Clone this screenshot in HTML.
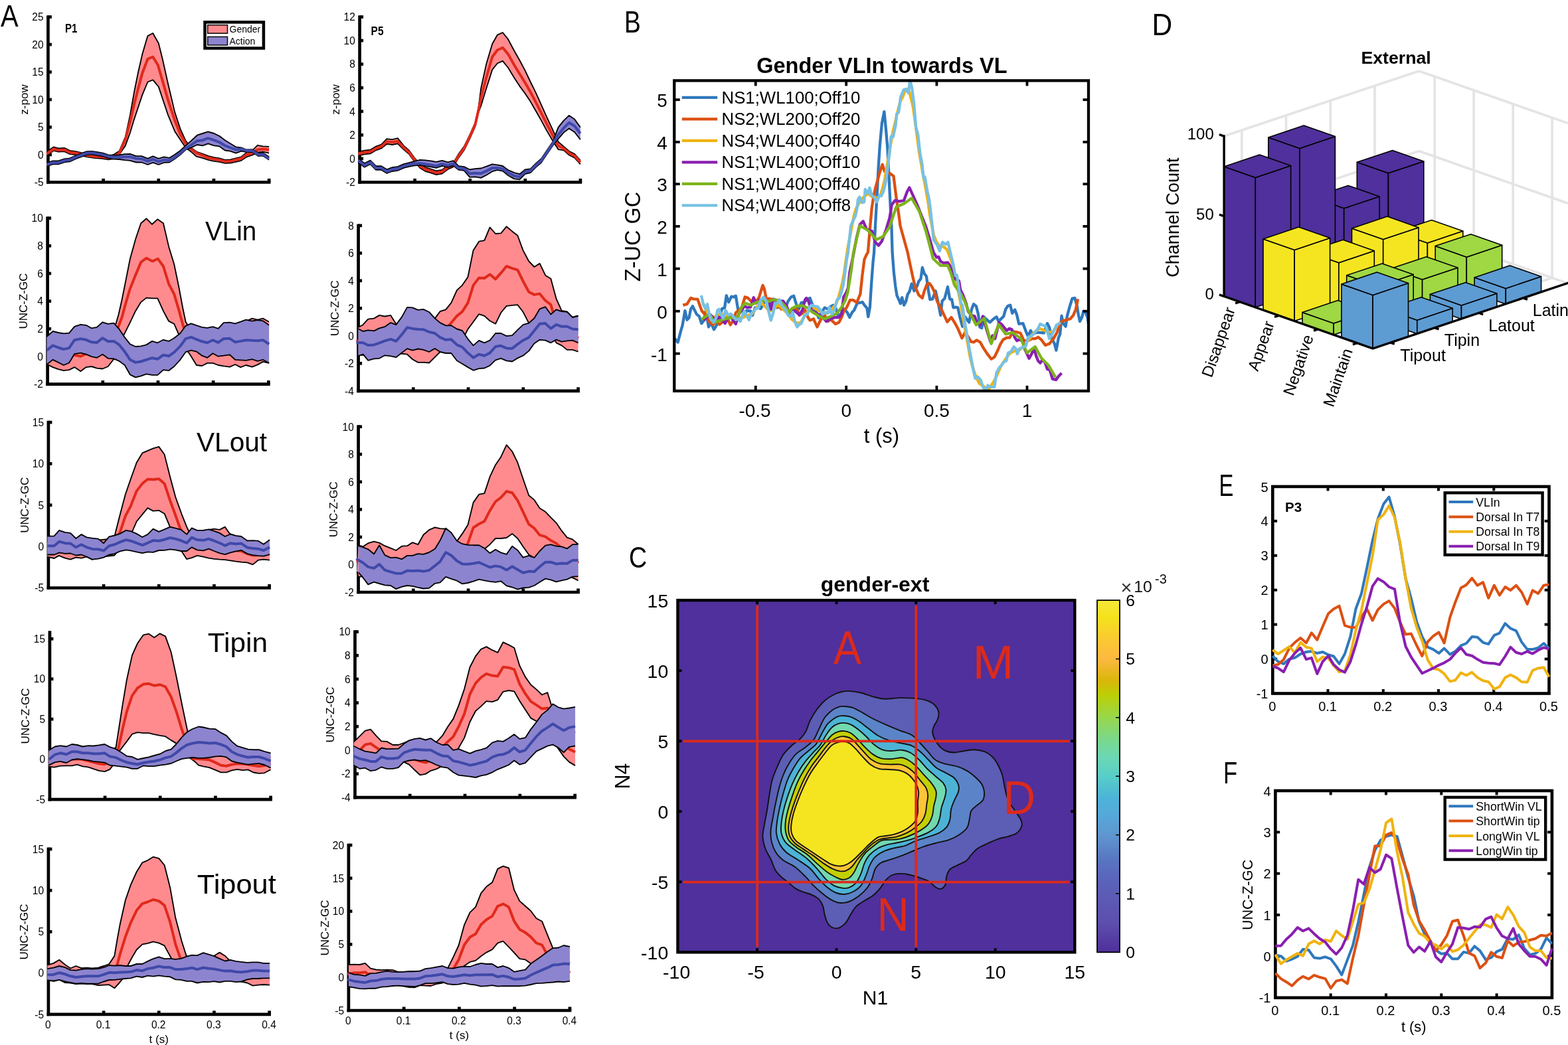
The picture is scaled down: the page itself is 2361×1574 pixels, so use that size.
<!DOCTYPE html>
<html lang="en"><head><meta charset="utf-8"><title>Figure</title>
<style>
html,body{margin:0;padding:0;background:#fff;}
body{width:2361px;height:1574px;overflow:hidden;}
svg{display:block;font-family:"Liberation Sans",sans-serif;}
</style></head><body>
<svg width="2361" height="1574" viewBox="0 0 2361 1574">
<rect width="2361" height="1574" fill="#fff"/>
<g id="A-left">
<g stroke="#000" stroke-width="4.7" fill="none" stroke-linecap="butt">
<path d="M72.4,23.15 V276.85"/>
<path d="M70.05,274.5 H407.45"/>
<path d="M72.4,233 h5.5"/>
<path d="M72.4,191.5 h5.5"/>
<path d="M72.4,150 h5.5"/>
<path d="M72.4,108.5 h5.5"/>
<path d="M72.4,67 h5.5"/>
<path d="M72.4,25.5 h5.5"/>
<path d="M155.575,274.5 v-5.5"/>
<path d="M238.75,274.5 v-5.5"/>
<path d="M321.925,274.5 v-5.5"/>
<path d="M405.1,274.5 v-5.5"/>
</g>
<text transform="translate(65.6 280.303) scale(1 1.04)" font-size="15.5" text-anchor="end">-5</text>
<text transform="translate(65.6 238.803) scale(1 1.04)" font-size="15.5" text-anchor="end">0</text>
<text transform="translate(65.6 197.303) scale(1 1.04)" font-size="15.5" text-anchor="end">5</text>
<text transform="translate(65.6 155.803) scale(1 1.04)" font-size="15.5" text-anchor="end">10</text>
<text transform="translate(65.6 114.303) scale(1 1.04)" font-size="15.5" text-anchor="end">15</text>
<text transform="translate(65.6 72.8032) scale(1 1.04)" font-size="15.5" text-anchor="end">20</text>
<text transform="translate(65.6 31.3032) scale(1 1.04)" font-size="15.5" text-anchor="end">25</text>
<text transform="translate(42 150) rotate(-90)" font-size="17" text-anchor="middle">z-pow</text>
<g stroke="#000" stroke-width="4.7" fill="none" stroke-linecap="butt">
<path d="M71.6,326.25 V580.95"/>
<path d="M69.25,578.6 H406.65"/>
<path d="M71.6,536.933 h5.5"/>
<path d="M71.6,495.267 h5.5"/>
<path d="M71.6,453.6 h5.5"/>
<path d="M71.6,411.933 h5.5"/>
<path d="M71.6,370.267 h5.5"/>
<path d="M71.6,328.6 h5.5"/>
<path d="M154.775,578.6 v-5.5"/>
<path d="M237.95,578.6 v-5.5"/>
<path d="M321.125,578.6 v-5.5"/>
<path d="M404.3,578.6 v-5.5"/>
</g>
<text transform="translate(64.8 584.403) scale(1 1.04)" font-size="15.5" text-anchor="end">-2</text>
<text transform="translate(64.8 542.737) scale(1 1.04)" font-size="15.5" text-anchor="end">0</text>
<text transform="translate(64.8 501.07) scale(1 1.04)" font-size="15.5" text-anchor="end">2</text>
<text transform="translate(64.8 459.403) scale(1 1.04)" font-size="15.5" text-anchor="end">4</text>
<text transform="translate(64.8 417.737) scale(1 1.04)" font-size="15.5" text-anchor="end">6</text>
<text transform="translate(64.8 376.07) scale(1 1.04)" font-size="15.5" text-anchor="end">8</text>
<text transform="translate(64.8 334.403) scale(1 1.04)" font-size="15.5" text-anchor="end">10</text>
<text transform="translate(40.5 453.6) rotate(-90)" font-size="17" text-anchor="middle">UNC-Z-GC</text>
<g stroke="#000" stroke-width="4.7" fill="none" stroke-linecap="butt">
<path d="M72.9,633.75 V887.85"/>
<path d="M70.55,885.5 H407.95"/>
<path d="M72.9,823.15 h5.5"/>
<path d="M72.9,760.8 h5.5"/>
<path d="M72.9,698.45 h5.5"/>
<path d="M72.9,636.1 h5.5"/>
<path d="M156.075,885.5 v-5.5"/>
<path d="M239.25,885.5 v-5.5"/>
<path d="M322.425,885.5 v-5.5"/>
<path d="M405.6,885.5 v-5.5"/>
</g>
<text transform="translate(66.1 891.303) scale(1 1.04)" font-size="15.5" text-anchor="end">-5</text>
<text transform="translate(66.1 828.953) scale(1 1.04)" font-size="15.5" text-anchor="end">0</text>
<text transform="translate(66.1 766.603) scale(1 1.04)" font-size="15.5" text-anchor="end">5</text>
<text transform="translate(66.1 704.253) scale(1 1.04)" font-size="15.5" text-anchor="end">10</text>
<text transform="translate(66.1 641.903) scale(1 1.04)" font-size="15.5" text-anchor="end">15</text>
<text transform="translate(42.5 760.8) rotate(-90)" font-size="17" text-anchor="middle">UNC-Z-GC</text>
<g stroke="#000" stroke-width="4.7" fill="none" stroke-linecap="butt">
<path d="M74.9,950.35 V1206.45"/>
<path d="M72.55,1204.1 H409.95"/>
<path d="M74.9,1143.62 h5.5"/>
<path d="M74.9,1083.15 h5.5"/>
<path d="M74.9,1022.67 h5.5"/>
<path d="M74.9,962.2 h5.5"/>
<path d="M158.075,1204.1 v-5.5"/>
<path d="M241.25,1204.1 v-5.5"/>
<path d="M324.425,1204.1 v-5.5"/>
<path d="M407.6,1204.1 v-5.5"/>
</g>
<text transform="translate(68.1 1209.9) scale(1 1.04)" font-size="15.5" text-anchor="end">-5</text>
<text transform="translate(68.1 1149.43) scale(1 1.04)" font-size="15.5" text-anchor="end">0</text>
<text transform="translate(68.1 1088.95) scale(1 1.04)" font-size="15.5" text-anchor="end">5</text>
<text transform="translate(68.1 1028.48) scale(1 1.04)" font-size="15.5" text-anchor="end">10</text>
<text transform="translate(68.1 968.003) scale(1 1.04)" font-size="15.5" text-anchor="end">15</text>
<text transform="translate(44 1078.4) rotate(-90)" font-size="17" text-anchor="middle">UNC-Z-GC</text>
<g stroke="#000" stroke-width="4.7" fill="none" stroke-linecap="butt">
<path d="M72.9,1276.55 V1530.25"/>
<path d="M70.55,1527.9 H407.95"/>
<path d="M72.9,1465.65 h5.5"/>
<path d="M72.9,1403.4 h5.5"/>
<path d="M72.9,1341.15 h5.5"/>
<path d="M72.9,1278.9 h5.5"/>
<path d="M156.075,1527.9 v-5.5"/>
<path d="M239.25,1527.9 v-5.5"/>
<path d="M322.425,1527.9 v-5.5"/>
<path d="M405.6,1527.9 v-5.5"/>
</g>
<text transform="translate(66.1 1533.7) scale(1 1.04)" font-size="15.5" text-anchor="end">-5</text>
<text transform="translate(66.1 1471.45) scale(1 1.04)" font-size="15.5" text-anchor="end">0</text>
<text transform="translate(66.1 1409.2) scale(1 1.04)" font-size="15.5" text-anchor="end">5</text>
<text transform="translate(66.1 1346.95) scale(1 1.04)" font-size="15.5" text-anchor="end">10</text>
<text transform="translate(66.1 1284.7) scale(1 1.04)" font-size="15.5" text-anchor="end">15</text>
<text transform="translate(72.3 1548.9) scale(1 1.06)" font-size="15.5" text-anchor="middle">0</text>
<text transform="translate(155.475 1548.9) scale(1 1.06)" font-size="15.5" text-anchor="middle">0.1</text>
<text transform="translate(238.65 1548.9) scale(1 1.06)" font-size="15.5" text-anchor="middle">0.2</text>
<text transform="translate(321.825 1548.9) scale(1 1.06)" font-size="15.5" text-anchor="middle">0.3</text>
<text transform="translate(405 1548.9) scale(1 1.06)" font-size="15.5" text-anchor="middle">0.4</text>
<text transform="translate(42 1403.4) rotate(-90)" font-size="17" text-anchor="middle">UNC-Z-GC</text>
<text x="239.25" y="1570.9" font-size="17" text-anchor="middle">t (s)</text>
<text transform="translate(0.96 40) scale(0.907 1.061)" font-size="44" fill="#000">A</text>
<polygon points="70.4,228.6 80.6,221.4 87.8,223.5 96.9,222.9 105.1,226.9 114.3,228.2 122.4,230.2 132.7,232.2 142.9,233.7 153.1,234.3 163.3,235.7 171.4,232.7 179.6,227.6 188.8,206.1 195.9,173.5 202,138.8 208.2,108.2 214.3,81.6 222.4,54.1 230.2,50 238.8,65.3 244.9,89.8 253.1,126.5 263.3,169.4 271.4,193.9 279.6,212.2 287.8,222.4 295.9,228.6 306.1,232.2 314.3,235.1 322.4,237.1 330.6,238.4 338.8,240.8 346.9,240.4 355.1,238.4 363.3,236.3 371.4,229.6 379.6,226.9 387.8,218.8 395.9,220.4 405.1,220.8 405.1,230.6 395.9,228.6 387.8,229.6 379.6,233.7 371.4,236.3 363.3,241.8 355.1,243.9 346.9,245.5 338.8,245.9 330.6,243.9 322.4,242.9 314.3,241.2 306.1,238.4 295.9,235.7 287.8,228.6 279.6,222.4 271.4,210.2 263.3,198 253.1,173.5 244.9,149 238.8,130.6 230.2,120.4 222.4,123.5 214.3,142.9 208.2,161.2 202,179.6 195.9,200 188.8,219.4 179.6,232.7 171.4,239.2 163.3,240.4 153.1,238.8 142.9,238.2 132.7,236.7 122.4,234.7 114.3,233.1 105.1,232.2 96.9,228.2 87.8,228.6 80.6,226.9 70.4,234.3" fill="#FF8B8F"/><polyline points="70.4,228.6 80.6,221.4 87.8,223.5 96.9,222.9 105.1,226.9 114.3,228.2 122.4,230.2 132.7,232.2 142.9,233.7 153.1,234.3 163.3,235.7 171.4,232.7 179.6,227.6 188.8,206.1 195.9,173.5 202,138.8 208.2,108.2 214.3,81.6 222.4,54.1 230.2,50 238.8,65.3 244.9,89.8 253.1,126.5 263.3,169.4 271.4,193.9 279.6,212.2 287.8,222.4 295.9,228.6 306.1,232.2 314.3,235.1 322.4,237.1 330.6,238.4 338.8,240.8 346.9,240.4 355.1,238.4 363.3,236.3 371.4,229.6 379.6,226.9 387.8,218.8 395.9,220.4 405.1,220.8" fill="none" stroke="#000" stroke-width="1.85" stroke-linejoin="round"/><polyline points="70.4,234.3 80.6,226.9 87.8,228.6 96.9,228.2 105.1,232.2 114.3,233.1 122.4,234.7 132.7,236.7 142.9,238.2 153.1,238.8 163.3,240.4 171.4,239.2 179.6,232.7 188.8,219.4 195.9,200 202,179.6 208.2,161.2 214.3,142.9 222.4,123.5 230.2,120.4 238.8,130.6 244.9,149 253.1,173.5 263.3,198 271.4,210.2 279.6,222.4 287.8,228.6 295.9,235.7 306.1,238.4 314.3,241.2 322.4,242.9 330.6,243.9 338.8,245.9 346.9,245.5 355.1,243.9 363.3,241.8 371.4,236.3 379.6,233.7 387.8,229.6 395.9,228.6 405.1,230.6" fill="none" stroke="#000" stroke-width="1.85" stroke-linejoin="round"/>
<polyline points="70.4,231.6 80.6,224.5 87.8,226.1 96.9,225.5 105.1,229.6 114.3,230.6 122.4,232.2 132.7,234.3 142.9,235.7 153.1,236.3 163.3,237.8 171.4,235.7 179.6,230.6 188.8,210.2 195.9,183.7 202,157.1 208.2,132.7 214.3,110.2 222.4,88.8 230.2,85.7 237.8,98 244.9,122.4 253.1,151 263.3,181.6 271.4,202 279.6,216.3 287.8,224.5 295.9,230.6 306.1,234.7 314.3,237.8 322.4,239.8 330.6,240.8 338.8,243.3 346.9,242.9 355.1,240.8 363.3,238.8 371.4,232.7 379.6,230.6 387.8,225.5 395.9,224.5 405.1,225.5" fill="none" stroke="#E02A1B" stroke-width="4" stroke-linejoin="round" stroke-linecap="butt" />
<polygon points="70.4,245.5 79.6,242.4 87.8,242.4 96.9,239.4 105.1,238.4 114.3,234.3 122.4,231.2 130.6,228.2 138.8,227.8 146.9,229.2 155.1,230.6 163.3,233.3 171.4,233.9 179.6,233.5 187.8,232.2 195.9,231.8 205.1,235.1 213.3,235.1 222.4,238.8 230.2,235.3 238.8,238.8 246.9,236.3 255.1,237.8 263.3,232.7 271.4,226.9 279.6,219.4 287.8,212.2 296.9,203.7 305.1,201 313.3,198.4 322.4,201 330.6,205.1 338.8,211.2 346.9,216.3 355.1,221.4 363.3,222.4 371.4,225.5 379.6,225.1 388.8,230.2 395.9,230.2 405.1,236.3 405.1,240.8 395.9,234.7 388.8,235.1 379.6,229 371.4,229 363.3,227.6 355.1,230.6 346.9,227.6 338.8,226.5 330.6,220.4 322.4,219.4 313.3,216.3 305.1,219.4 296.9,218 287.8,222.4 279.6,225.5 271.4,233.1 263.3,239.2 255.1,244.5 246.9,244.9 238.8,248 230.2,244.9 222.4,248 213.3,244.5 205.1,244.5 195.9,241.8 187.8,241.2 179.6,240 171.4,239.6 163.3,238.4 155.1,235.5 146.9,234.1 138.8,232.7 130.6,233.1 122.4,236.1 114.3,239.2 105.1,243.3 96.9,244.3 87.8,247.3 79.6,247.3 70.4,250.4" fill="#8D84CF"/><polyline points="70.4,245.5 79.6,242.4 87.8,242.4 96.9,239.4 105.1,238.4 114.3,234.3 122.4,231.2 130.6,228.2 138.8,227.8 146.9,229.2 155.1,230.6 163.3,233.3 171.4,233.9 179.6,233.5 187.8,232.2 195.9,231.8 205.1,235.1 213.3,235.1 222.4,238.8 230.2,235.3 238.8,238.8 246.9,236.3 255.1,237.8 263.3,232.7 271.4,226.9 279.6,219.4 287.8,212.2 296.9,203.7 305.1,201 313.3,198.4 322.4,201 330.6,205.1 338.8,211.2 346.9,216.3 355.1,221.4 363.3,222.4 371.4,225.5 379.6,225.1 388.8,230.2 395.9,230.2 405.1,236.3" fill="none" stroke="#000" stroke-width="1.85" stroke-linejoin="round"/><polyline points="70.4,250.4 79.6,247.3 87.8,247.3 96.9,244.3 105.1,243.3 114.3,239.2 122.4,236.1 130.6,233.1 138.8,232.7 146.9,234.1 155.1,235.5 163.3,238.4 171.4,239.6 179.6,240 187.8,241.2 195.9,241.8 205.1,244.5 213.3,244.5 222.4,248 230.2,244.9 238.8,248 246.9,244.9 255.1,244.5 263.3,239.2 271.4,233.1 279.6,225.5 287.8,222.4 296.9,218 305.1,219.4 313.3,216.3 322.4,219.4 330.6,220.4 338.8,226.5 346.9,227.6 355.1,230.6 363.3,227.6 371.4,229 379.6,229 388.8,235.1 395.9,234.7 405.1,240.8" fill="none" stroke="#000" stroke-width="1.85" stroke-linejoin="round"/>
<polyline points="70.4,248 79.6,244.9 87.8,244.9 96.9,241.8 105.1,240.8 114.3,236.7 122.4,233.7 130.6,230.6 138.8,230.2 146.9,231.6 155.1,233.1 163.3,235.7 171.4,236.7 179.6,236.7 187.8,236.3 195.9,236.3 205.1,238.8 213.3,239.2 222.4,242.9 230.2,239.8 238.8,243.3 246.9,240.8 255.1,241.8 263.3,236.7 271.4,230.6 279.6,223.5 287.8,218.4 296.9,212.2 305.1,211.2 313.3,208.2 322.4,211.2 330.6,214.3 338.8,219.4 346.9,222.4 355.1,225.5 363.3,224.5 371.4,226.9 379.6,226.9 388.8,232.7 395.9,232.7 405.1,238.8" fill="none" stroke="#3F49A9" stroke-width="4" stroke-linejoin="round" stroke-linecap="butt" />
<polygon points="71.4,506.1 81.6,504.1 102,504.1 122.4,504.1 142.9,500 163.3,493.9 174.5,487.8 178.6,473.5 183.7,451 189.8,420.4 195.9,389.8 204.1,360.2 212.2,336.3 220.4,329.2 229,337.8 237.3,330.2 245.9,336.3 254.1,371.4 262.2,398 269.4,432.7 275.5,465.3 279.6,484.7 282.7,489.8 295.9,495.9 326.5,495.9 346.9,489.8 363.3,486.7 371.4,483.7 379.6,479.6 387.8,481.6 395.9,479.6 405.1,484.7 405.1,546.9 395.9,544.9 387.8,549.4 379.6,552.7 370.4,550 362.2,553.1 354.1,549 345.9,552.7 336.7,551.4 328.6,550 320.4,546.9 312.2,546.9 304.1,551 295.9,550 287.8,536.7 283.7,530.6 277.6,524.5 269.4,504.1 262.2,487.8 254.1,483.7 245.9,468.4 237.3,449.4 229,449.4 220.4,448.6 212.2,455.1 204.1,468.4 195.9,485.7 186.7,504.1 171.4,540.8 162.7,552 154.5,555.5 145.9,554.7 137.8,552 129.6,553.1 121.4,559.2 112.2,553.1 104.1,557.1 95.9,558.2 87.8,556.1 79.6,553.1 71.4,549" fill="#FF8B8F"/><polyline points="71.4,506.1 81.6,504.1 102,504.1 122.4,504.1 142.9,500 163.3,493.9 174.5,487.8 178.6,473.5 183.7,451 189.8,420.4 195.9,389.8 204.1,360.2 212.2,336.3 220.4,329.2 229,337.8 237.3,330.2 245.9,336.3 254.1,371.4 262.2,398 269.4,432.7 275.5,465.3 279.6,484.7 282.7,489.8 295.9,495.9 326.5,495.9 346.9,489.8 363.3,486.7 371.4,483.7 379.6,479.6 387.8,481.6 395.9,479.6 405.1,484.7" fill="none" stroke="#000" stroke-width="1.85" stroke-linejoin="round"/><polyline points="71.4,549 79.6,553.1 87.8,556.1 95.9,558.2 104.1,557.1 112.2,553.1 121.4,559.2 129.6,553.1 137.8,552 145.9,554.7 154.5,555.5 162.7,552 171.4,540.8 186.7,504.1 195.9,485.7 204.1,468.4 212.2,455.1 220.4,448.6 229,449.4 237.3,449.4 245.9,468.4 254.1,483.7 262.2,487.8 269.4,504.1 277.6,524.5 283.7,530.6 287.8,536.7 295.9,550 304.1,551 312.2,546.9 320.4,546.9 328.6,550 336.7,551.4 345.9,552.7 354.1,549 362.2,553.1 370.4,550 379.6,552.7 387.8,549.4 395.9,544.9 405.1,546.9" fill="none" stroke="#000" stroke-width="1.85" stroke-linejoin="round"/>
<polyline points="71.4,530.6 91.8,532.7 112.2,534.7 121.4,536.7 130.6,532.7 155.1,524.5 171.4,506.1 177.6,493.9 183.7,477.6 189.8,455.1 195.9,434.7 204.1,414.3 212.2,394.9 220.4,388.8 229.6,393.5 237.8,389.8 245.9,401 254.1,427.6 262.2,442.9 269.4,467.3 275.5,489.8 279.6,504.1 289.8,520.4 326.5,522.4 367.3,518.4 405.1,514.3" fill="none" stroke="#E02A1B" stroke-width="4" stroke-linejoin="round" stroke-linecap="butt" />
<polygon points="70.4,507.1 79.6,499 87.8,501 95.9,502.4 104.1,501.6 112.2,491.8 121.4,488.8 129.6,489.8 137.8,494.3 145.9,492.9 154.5,485.3 162.7,487.8 171.4,486.7 179.6,495.9 187.8,508.2 195.9,518.4 204.1,522 212.2,521.4 220.4,519.4 229,513.9 237.3,516.3 245.9,511.8 254.1,513.9 262.2,509.2 271.4,502 279.6,490.8 287.8,487.3 295.9,490.2 304.1,492.9 312.2,493.9 320.4,492.2 328.6,494.9 336.7,486.1 345.9,485.7 354.1,487.3 362.2,484.7 370.4,481.6 379.6,483.7 387.8,482 395.9,483.3 405.1,489.8 405.1,546.9 395.9,541.8 387.8,543.9 379.6,541.2 370.4,542.9 362.2,542.4 354.1,541.8 345.9,534.3 336.7,535.7 328.6,536.7 320.4,532.2 312.2,538.8 304.1,535.7 295.9,529.6 287.8,527.6 279.6,530.2 271.4,541.8 262.2,552 254.1,558.2 245.9,557.1 237.3,564.9 229,564.9 220.4,563.3 212.2,566.3 204.1,568.4 195.9,564.3 187.8,550 179.6,543.9 171.4,540.4 162.7,539.8 154.5,533.7 145.9,538.8 137.8,537.1 129.6,533.7 121.4,531.6 112.2,533.1 104.1,546.5 95.9,550 87.8,545.9 79.6,541.8 70.4,549" fill="#8D84CF"/><polyline points="70.4,507.1 79.6,499 87.8,501 95.9,502.4 104.1,501.6 112.2,491.8 121.4,488.8 129.6,489.8 137.8,494.3 145.9,492.9 154.5,485.3 162.7,487.8 171.4,486.7 179.6,495.9 187.8,508.2 195.9,518.4 204.1,522 212.2,521.4 220.4,519.4 229,513.9 237.3,516.3 245.9,511.8 254.1,513.9 262.2,509.2 271.4,502 279.6,490.8 287.8,487.3 295.9,490.2 304.1,492.9 312.2,493.9 320.4,492.2 328.6,494.9 336.7,486.1 345.9,485.7 354.1,487.3 362.2,484.7 370.4,481.6 379.6,483.7 387.8,482 395.9,483.3 405.1,489.8" fill="none" stroke="#000" stroke-width="1.85" stroke-linejoin="round"/><polyline points="70.4,549 79.6,541.8 87.8,545.9 95.9,550 104.1,546.5 112.2,533.1 121.4,531.6 129.6,533.7 137.8,537.1 145.9,538.8 154.5,533.7 162.7,539.8 171.4,540.4 179.6,543.9 187.8,550 195.9,564.3 204.1,568.4 212.2,566.3 220.4,563.3 229,564.9 237.3,564.9 245.9,557.1 254.1,558.2 262.2,552 271.4,541.8 279.6,530.2 287.8,527.6 295.9,529.6 304.1,535.7 312.2,538.8 320.4,532.2 328.6,536.7 336.7,535.7 345.9,534.3 354.1,541.8 362.2,542.4 370.4,542.9 379.6,541.2 387.8,543.9 395.9,541.8 405.1,546.9" fill="none" stroke="#000" stroke-width="1.85" stroke-linejoin="round"/>
<polyline points="70.4,527.6 79.6,520.4 87.8,523.5 95.9,526.1 104.1,524.1 112.2,512.2 121.4,510.2 129.6,511.8 137.8,515.3 145.9,515.9 154.5,509.2 162.7,514.3 171.4,513.9 179.6,519.4 187.8,529.6 195.9,541.8 204.1,545.9 212.2,544.5 220.4,541.8 229,539.2 237.3,540.8 245.9,534.7 254.1,536.3 262.2,530.6 271.4,521.4 279.6,510.2 287.8,507.8 295.9,511.2 304.1,514.3 312.2,516.3 320.4,512.2 328.6,515.9 336.7,510.2 345.9,509.8 354.1,515.3 362.2,513.9 370.4,512.2 379.6,512.7 387.8,513.3 395.9,512.2 405.1,518.4" fill="none" stroke="#3F49A9" stroke-width="4" stroke-linejoin="round" stroke-linecap="butt" />
<polygon points="71.4,816.1 102,814.1 142.9,814.1 163.3,812 172.4,808 179.6,779.4 188.8,744.7 196.9,721.2 205.7,696.7 214.3,682.4 222.4,678.8 230.6,675.3 239.2,672.9 247.6,684.5 256.1,718.2 264.3,748.8 273.5,774.3 281.2,793.7 284.7,800.8 298,799.8 314.3,797.8 322.4,796.7 330.6,797.8 338.8,793.7 345.9,803.9 367.3,814.1 387.8,818.2 406.1,822.2 406.1,843.7 396.9,842.7 388.8,843.7 380.6,850.4 372.4,847.3 363.3,846.7 355.1,845.7 346.9,844.3 338.8,843.1 330.6,842.7 322.4,841.8 314.3,840.6 306.1,838.6 296.9,836.9 288.8,840.2 281.2,842.2 273.5,830.4 265.3,814.1 255.1,791.6 247.6,773.7 239.2,768.8 230.6,769.6 222.4,765.1 214.3,774.9 205.7,785.5 199,800.8 183.7,822.2 172.4,836.5 155.1,838.6 138.8,842.7 130.6,838.6 122.4,840.6 114.3,839.6 106.1,842.7 98,840.6 88.8,836.9 81.6,841 71.4,838.6" fill="#FF8B8F"/><polyline points="71.4,816.1 102,814.1 142.9,814.1 163.3,812 172.4,808 179.6,779.4 188.8,744.7 196.9,721.2 205.7,696.7 214.3,682.4 222.4,678.8 230.6,675.3 239.2,672.9 247.6,684.5 256.1,718.2 264.3,748.8 273.5,774.3 281.2,793.7 284.7,800.8 298,799.8 314.3,797.8 322.4,796.7 330.6,797.8 338.8,793.7 345.9,803.9 367.3,814.1 387.8,818.2 406.1,822.2" fill="none" stroke="#000" stroke-width="1.85" stroke-linejoin="round"/><polyline points="71.4,838.6 81.6,841 88.8,836.9 98,840.6 106.1,842.7 114.3,839.6 122.4,840.6 130.6,838.6 138.8,842.7 155.1,838.6 172.4,836.5 183.7,822.2 199,800.8 205.7,785.5 214.3,774.9 222.4,765.1 230.6,769.6 239.2,768.8 247.6,773.7 255.1,791.6 265.3,814.1 273.5,830.4 281.2,842.2 288.8,840.2 296.9,836.9 306.1,838.6 314.3,840.6 322.4,841.8 330.6,842.7 338.8,843.1 346.9,844.3 355.1,845.7 363.3,846.7 372.4,847.3 380.6,850.4 388.8,843.7 396.9,842.7 406.1,843.7" fill="none" stroke="#000" stroke-width="1.85" stroke-linejoin="round"/>
<polyline points="71.4,829.4 102,829.4 142.9,830.4 167.3,824.3 180.6,801.8 188.8,777.3 196.9,762 205.7,739.6 214.3,728.4 222.4,721.8 230.6,722.2 239.2,721.2 247.6,728.4 256.1,753.9 264.3,776.3 270.4,793.7 279.6,814.1 306.1,822.2 346.9,828.4 363.3,830 372.4,834.1 380.6,836.5 388.8,836.1 406.1,833.9" fill="none" stroke="#E02A1B" stroke-width="4" stroke-linejoin="round" stroke-linecap="butt" />
<polygon points="71.4,807.6 81.6,807.3 89.2,798.8 98,801.8 106.1,802.9 114.3,811 122.4,804.9 130.6,809.4 138.8,810.6 148,811.6 156.1,818.2 164.3,808.4 172.4,806.5 180.6,803.9 189.8,798.8 196.9,800.2 205.7,803.9 214.3,809 222.4,804.9 230.6,796.7 239.2,800.8 247.6,797.3 256.1,793.7 264.3,795.7 272.4,797.8 281.2,804.9 288.8,795.3 296.9,798.8 306.1,798.8 314.3,797.3 322.4,799.8 330.6,802.9 338.8,808 346.9,804.5 355.1,806.9 363.3,808 372.4,814.5 380.6,814.1 388.8,814.7 396.9,819.8 406.1,813.1 406.1,835.1 396.9,837.6 388.8,837.1 380.6,836.1 372.4,834.1 363.3,828.8 355.1,830.4 346.9,832.4 338.8,835.1 330.6,833.1 322.4,830 314.3,826.7 306.1,829.4 296.9,828.4 288.8,824.3 281.2,830 272.4,830 264.3,828.4 256.1,827.3 247.6,828.8 239.2,829 230.6,831.8 222.4,831.4 214.3,833.1 205.7,831.4 196.9,829.4 189.8,828.4 180.6,830.4 172.4,834.1 164.3,835.5 156.1,839.6 148,841.6 138.8,842.7 130.6,838.6 122.4,835.5 114.3,836.5 106.1,833.5 98,833.9 89.2,832.4 81.6,835.5 71.4,835.5" fill="#8D84CF"/><polyline points="71.4,807.6 81.6,807.3 89.2,798.8 98,801.8 106.1,802.9 114.3,811 122.4,804.9 130.6,809.4 138.8,810.6 148,811.6 156.1,818.2 164.3,808.4 172.4,806.5 180.6,803.9 189.8,798.8 196.9,800.2 205.7,803.9 214.3,809 222.4,804.9 230.6,796.7 239.2,800.8 247.6,797.3 256.1,793.7 264.3,795.7 272.4,797.8 281.2,804.9 288.8,795.3 296.9,798.8 306.1,798.8 314.3,797.3 322.4,799.8 330.6,802.9 338.8,808 346.9,804.5 355.1,806.9 363.3,808 372.4,814.5 380.6,814.1 388.8,814.7 396.9,819.8 406.1,813.1" fill="none" stroke="#000" stroke-width="1.85" stroke-linejoin="round"/><polyline points="71.4,835.5 81.6,835.5 89.2,832.4 98,833.9 106.1,833.5 114.3,836.5 122.4,835.5 130.6,838.6 138.8,842.7 148,841.6 156.1,839.6 164.3,835.5 172.4,834.1 180.6,830.4 189.8,828.4 196.9,829.4 205.7,831.4 214.3,833.1 222.4,831.4 230.6,831.8 239.2,829 247.6,828.8 256.1,827.3 264.3,828.4 272.4,830 281.2,830 288.8,824.3 296.9,828.4 306.1,829.4 314.3,826.7 322.4,830 330.6,833.1 338.8,835.1 346.9,832.4 355.1,830.4 363.3,828.8 372.4,834.1 380.6,836.1 388.8,837.1 396.9,837.6 406.1,835.1" fill="none" stroke="#000" stroke-width="1.85" stroke-linejoin="round"/>
<polyline points="71.4,822.2 81.6,822.2 89.2,815.7 98,818.2 106.1,818.6 114.3,824.3 122.4,820.2 130.6,824.3 138.8,826.9 148,827.3 156.1,829.4 164.3,822.2 172.4,820.2 180.6,816.5 189.8,813.1 196.9,814.7 205.7,817.8 214.3,821.2 222.4,817.8 230.6,814.1 239.2,814.7 247.6,812.7 256.1,810 264.3,811.6 272.4,814.1 281.2,817.8 288.8,809.6 296.9,813.1 306.1,813.7 314.3,811.6 322.4,814.5 330.6,817.8 338.8,821.8 346.9,818.2 355.1,819.2 363.3,818.6 372.4,824.7 380.6,825.9 388.8,826.7 396.9,829 406.1,824.3" fill="none" stroke="#3F49A9" stroke-width="4" stroke-linejoin="round" stroke-linecap="butt" />
<polygon points="73.5,1132.2 102,1130.2 142.9,1130.2 163.3,1130.2 174.5,1126.1 179.6,1093.5 184.7,1060.8 190.8,1024.1 199,986.9 207.1,969 215.9,956.3 224.1,954.7 232.2,960.2 240.8,954.3 249,958.4 257.6,982.2 265.3,1018 273.5,1058.8 281.6,1097.6 284.7,1110.8 306.1,1124.1 346.9,1134.3 377.6,1140.4 407.6,1140.4 407.6,1159.2 398,1164.3 389.8,1164.9 381.6,1163.5 373.5,1159.4 365.3,1160.2 357.1,1158.8 349,1160.4 340.8,1163.3 332.7,1163.3 324.5,1159.8 315.3,1156.1 306.1,1154.3 299,1152.7 293.9,1147.6 285.7,1141.4 275.5,1130.2 265.3,1119.6 257.6,1114.9 249,1109.2 240.8,1107.8 232.2,1106.1 224.1,1104.1 215.9,1104.1 207.1,1103.1 199,1105.7 190.8,1116.9 180.6,1130.2 169.4,1153.7 165.3,1158.8 157.6,1162.2 149,1160.8 140.8,1158.2 132.7,1155.3 124.5,1154.3 116.3,1151.6 108.2,1153.3 100,1153.3 90.8,1153.7 81.6,1155.7 73.5,1154.7" fill="#FF8B8F"/><polyline points="73.5,1132.2 102,1130.2 142.9,1130.2 163.3,1130.2 174.5,1126.1 179.6,1093.5 184.7,1060.8 190.8,1024.1 199,986.9 207.1,969 215.9,956.3 224.1,954.7 232.2,960.2 240.8,954.3 249,958.4 257.6,982.2 265.3,1018 273.5,1058.8 281.6,1097.6 284.7,1110.8 306.1,1124.1 346.9,1134.3 377.6,1140.4 407.6,1140.4" fill="none" stroke="#000" stroke-width="1.85" stroke-linejoin="round"/><polyline points="73.5,1154.7 81.6,1155.7 90.8,1153.7 100,1153.3 108.2,1153.3 116.3,1151.6 124.5,1154.3 132.7,1155.3 140.8,1158.2 149,1160.8 157.6,1162.2 165.3,1158.8 169.4,1153.7 180.6,1130.2 190.8,1116.9 199,1105.7 207.1,1103.1 215.9,1104.1 224.1,1104.1 232.2,1106.1 240.8,1107.8 249,1109.2 257.6,1114.9 265.3,1119.6 275.5,1130.2 285.7,1141.4 293.9,1147.6 299,1152.7 306.1,1154.3 315.3,1156.1 324.5,1159.8 332.7,1163.3 340.8,1163.3 349,1160.4 357.1,1158.8 365.3,1160.2 373.5,1159.4 381.6,1163.5 389.8,1164.9 398,1164.3 407.6,1159.2" fill="none" stroke="#000" stroke-width="1.85" stroke-linejoin="round"/>
<polyline points="73.5,1144.5 102,1143.5 122.4,1143.5 138.8,1147.6 149,1150.2 157.6,1151.2 167.3,1146.5 177.6,1130.2 184.7,1097.6 190.8,1072 199,1047.6 207.1,1036.3 215.9,1030.6 224.1,1029.8 232.2,1032.7 240.8,1031.2 249,1034.3 257.6,1049.6 265.3,1071 273.5,1097.6 277.6,1109.8 283.7,1132.2 289.8,1142.4 306.1,1143.5 315.3,1144.5 324.5,1148.6 332.7,1152.7 340.8,1153.7 349,1151.6 357.1,1150.2 365.3,1150.6 373.5,1151.6 381.6,1153.1 389.8,1154.3 398,1153.1 407.6,1149.6" fill="none" stroke="#E02A1B" stroke-width="4" stroke-linejoin="round" stroke-linecap="butt" />
<polygon points="73.5,1130.2 82.7,1124.5 90.8,1123.1 100,1124.5 108.2,1121 116.3,1122 124.5,1124.5 132.7,1123.1 140.8,1123.5 149,1122.4 157.6,1121 165.3,1125.1 174.5,1128.2 182.7,1133.3 190.8,1138.8 199,1140 207.1,1143.9 215.9,1142 224.1,1140.4 232.2,1138 240.8,1135.7 249,1131.2 257.6,1128.6 265.3,1121 273.5,1110.8 281.6,1102.7 289.8,1098 299,1094.5 306.1,1095.5 315.3,1097.6 324.5,1098.2 332.7,1103.7 340.8,1107.8 349,1116.9 357.1,1123.7 365.3,1126.1 373.5,1128.6 381.6,1129.2 389.8,1129.2 398,1131.8 407.6,1134.3 407.6,1156.7 398,1152 389.8,1150 381.6,1150.6 373.5,1151.6 365.3,1150.2 357.1,1148.6 349,1146.5 340.8,1140.4 332.7,1138.8 324.5,1139.4 315.3,1141 306.1,1141.8 299,1141.8 289.8,1141 281.6,1141.8 273.5,1143.1 265.3,1146.5 257.6,1150 249,1151.6 240.8,1152.7 232.2,1154.1 224.1,1154.1 215.9,1153.3 207.1,1157.8 199,1157.8 190.8,1155.7 182.7,1154.7 174.5,1153.7 165.3,1152.7 157.6,1148.6 149,1147.6 140.8,1146.9 132.7,1145.1 124.5,1144.1 116.3,1143.1 108.2,1144.5 100,1149 90.8,1146.9 82.7,1148.2 73.5,1152.7" fill="#8D84CF"/><polyline points="73.5,1130.2 82.7,1124.5 90.8,1123.1 100,1124.5 108.2,1121 116.3,1122 124.5,1124.5 132.7,1123.1 140.8,1123.5 149,1122.4 157.6,1121 165.3,1125.1 174.5,1128.2 182.7,1133.3 190.8,1138.8 199,1140 207.1,1143.9 215.9,1142 224.1,1140.4 232.2,1138 240.8,1135.7 249,1131.2 257.6,1128.6 265.3,1121 273.5,1110.8 281.6,1102.7 289.8,1098 299,1094.5 306.1,1095.5 315.3,1097.6 324.5,1098.2 332.7,1103.7 340.8,1107.8 349,1116.9 357.1,1123.7 365.3,1126.1 373.5,1128.6 381.6,1129.2 389.8,1129.2 398,1131.8 407.6,1134.3" fill="none" stroke="#000" stroke-width="1.85" stroke-linejoin="round"/><polyline points="73.5,1152.7 82.7,1148.2 90.8,1146.9 100,1149 108.2,1144.5 116.3,1143.1 124.5,1144.1 132.7,1145.1 140.8,1146.9 149,1147.6 157.6,1148.6 165.3,1152.7 174.5,1153.7 182.7,1154.7 190.8,1155.7 199,1157.8 207.1,1157.8 215.9,1153.3 224.1,1154.1 232.2,1154.1 240.8,1152.7 249,1151.6 257.6,1150 265.3,1146.5 273.5,1143.1 281.6,1141.8 289.8,1141 299,1141.8 306.1,1141.8 315.3,1141 324.5,1139.4 332.7,1138.8 340.8,1140.4 349,1146.5 357.1,1148.6 365.3,1150.2 373.5,1151.6 381.6,1150.6 389.8,1150 398,1152 407.6,1156.7" fill="none" stroke="#000" stroke-width="1.85" stroke-linejoin="round"/>
<polyline points="73.5,1143.9 82.7,1136.7 90.8,1134.3 100,1136.3 108.2,1132.2 116.3,1132.2 124.5,1134.3 132.7,1134.3 140.8,1135.3 149,1135.3 157.6,1134.3 165.3,1139.4 174.5,1141 182.7,1145.1 190.8,1148.2 199,1150 207.1,1151.2 215.9,1149 224.1,1147.6 232.2,1146.5 240.8,1144.5 249,1141.4 257.6,1139.4 265.3,1133.9 273.5,1127.1 281.6,1122 289.8,1119.6 299,1118 306.1,1118.6 315.3,1119.6 324.5,1119 332.7,1121.4 340.8,1124.7 349,1132.2 357.1,1136.3 365.3,1138.8 373.5,1140.8 381.6,1140 389.8,1140 398,1142.4 407.6,1146.1" fill="none" stroke="#3F49A9" stroke-width="4" stroke-linejoin="round" stroke-linecap="butt" />
<polygon points="71.4,1453.6 80.6,1450.9 89.2,1445.8 98,1453 106.1,1458.5 114.3,1455 122.4,1458.1 130.6,1457.7 138.8,1458.5 148,1457.7 156.1,1455 164.3,1452 172.4,1439.7 176.5,1415.2 180.6,1392.8 188.8,1356 196.9,1332.6 205.7,1313.2 214.3,1299.3 222.4,1295.8 230.6,1290.7 239.2,1292.8 247.6,1303 256.1,1336.7 264.3,1382.6 273.5,1417.3 280.6,1439.7 285.7,1441.8 306.1,1441.8 322.4,1439.7 330.6,1434.6 338.8,1439.7 344.9,1445.8 367.3,1454 387.8,1458.1 406.1,1458.1 406.1,1483.6 396.9,1483 388.8,1483.6 380.6,1484.6 372.4,1480.5 363.3,1478.5 346.9,1474.4 306.1,1468.3 265.3,1458.1 258.2,1443.8 253.1,1434.6 247.6,1424.4 239.2,1420.3 230.6,1418.3 222.4,1420.9 214.3,1422.4 205.7,1430.5 199,1441.8 192.9,1453 183.7,1475.4 179.6,1480.5 172.4,1488.3 164.3,1483.2 156.1,1483.6 148,1484.2 138.8,1482 130.6,1482 122.4,1481.6 114.3,1482 106.1,1480.5 98,1480.1 89.2,1475.4 81.6,1477.9 71.4,1476.4" fill="#FF8B8F"/><polyline points="71.4,1453.6 80.6,1450.9 89.2,1445.8 98,1453 106.1,1458.5 114.3,1455 122.4,1458.1 130.6,1457.7 138.8,1458.5 148,1457.7 156.1,1455 164.3,1452 172.4,1439.7 176.5,1415.2 180.6,1392.8 188.8,1356 196.9,1332.6 205.7,1313.2 214.3,1299.3 222.4,1295.8 230.6,1290.7 239.2,1292.8 247.6,1303 256.1,1336.7 264.3,1382.6 273.5,1417.3 280.6,1439.7 285.7,1441.8 306.1,1441.8 322.4,1439.7 330.6,1434.6 338.8,1439.7 344.9,1445.8 367.3,1454 387.8,1458.1 406.1,1458.1" fill="none" stroke="#000" stroke-width="1.85" stroke-linejoin="round"/><polyline points="71.4,1476.4 81.6,1477.9 89.2,1475.4 98,1480.1 106.1,1480.5 114.3,1482 122.4,1481.6 130.6,1482 138.8,1482 148,1484.2 156.1,1483.6 164.3,1483.2 172.4,1488.3 179.6,1480.5 183.7,1475.4 192.9,1453 199,1441.8 205.7,1430.5 214.3,1422.4 222.4,1420.9 230.6,1418.3 239.2,1420.3 247.6,1424.4 253.1,1434.6 258.2,1443.8 265.3,1458.1 306.1,1468.3 346.9,1474.4 363.3,1478.5 372.4,1480.5 380.6,1484.6 388.8,1483.6 396.9,1483 406.1,1483.6" fill="none" stroke="#000" stroke-width="1.85" stroke-linejoin="round"/>
<polyline points="71.4,1464.2 102,1466.2 142.9,1468.3 167.3,1466.2 176.5,1453 180.6,1437.7 188.8,1411.1 196.9,1389.7 205.7,1371.3 214.3,1361.1 222.4,1358.5 230.6,1355 239.2,1357.1 247.6,1363.6 256.1,1388.7 264.3,1422.4 271.4,1442.8 279.6,1458.1 326.5,1464.2 367.3,1468.3 406.1,1470.7" fill="none" stroke="#E02A1B" stroke-width="4" stroke-linejoin="round" stroke-linecap="butt" />
<polygon points="71.4,1459.1 80.6,1457.7 89.2,1455 98,1457.1 106.1,1461.1 114.3,1461.6 122.4,1460.1 130.6,1459.1 138.8,1459.5 148,1459.1 156.1,1457.1 164.3,1454 172.4,1454.6 180.6,1454 188.8,1455 196.9,1455 205.7,1452 214.3,1452 222.4,1447.9 230.6,1444.2 239.2,1441.3 247.6,1444.2 256.1,1443.8 264.3,1444.8 272.4,1443.8 281.2,1440.7 288.8,1438.7 296.9,1439.1 306.1,1435.2 314.3,1437.7 322.4,1440.1 330.6,1443.8 338.8,1447.5 346.9,1445.8 355.1,1447.9 363.3,1448.9 372.4,1449.9 380.6,1449.3 388.8,1449.3 396.9,1450.9 406.1,1450.9 406.1,1473.4 396.9,1473.4 388.8,1474 380.6,1474 372.4,1475.4 363.3,1478.5 355.1,1479.1 346.9,1477.9 338.8,1477.9 330.6,1479.5 322.4,1478.1 314.3,1479.1 306.1,1478.9 296.9,1480.5 288.8,1477.9 281.2,1477.9 272.4,1475.8 264.3,1475.4 256.1,1471.3 247.6,1470.7 239.2,1469.3 230.6,1470.7 222.4,1469.7 214.3,1472 205.7,1470.7 196.9,1473.4 188.8,1474 180.6,1474.8 172.4,1475.8 164.3,1476 156.1,1478.5 148,1481.6 138.8,1481.6 130.6,1481.6 122.4,1480.9 114.3,1481.6 106.1,1479.9 98,1478.5 89.2,1475.8 80.6,1477.5 71.4,1476.4" fill="#8D84CF"/><polyline points="71.4,1459.1 80.6,1457.7 89.2,1455 98,1457.1 106.1,1461.1 114.3,1461.6 122.4,1460.1 130.6,1459.1 138.8,1459.5 148,1459.1 156.1,1457.1 164.3,1454 172.4,1454.6 180.6,1454 188.8,1455 196.9,1455 205.7,1452 214.3,1452 222.4,1447.9 230.6,1444.2 239.2,1441.3 247.6,1444.2 256.1,1443.8 264.3,1444.8 272.4,1443.8 281.2,1440.7 288.8,1438.7 296.9,1439.1 306.1,1435.2 314.3,1437.7 322.4,1440.1 330.6,1443.8 338.8,1447.5 346.9,1445.8 355.1,1447.9 363.3,1448.9 372.4,1449.9 380.6,1449.3 388.8,1449.3 396.9,1450.9 406.1,1450.9" fill="none" stroke="#000" stroke-width="1.85" stroke-linejoin="round"/><polyline points="71.4,1476.4 80.6,1477.5 89.2,1475.8 98,1478.5 106.1,1479.9 114.3,1481.6 122.4,1480.9 130.6,1481.6 138.8,1481.6 148,1481.6 156.1,1478.5 164.3,1476 172.4,1475.8 180.6,1474.8 188.8,1474 196.9,1473.4 205.7,1470.7 214.3,1472 222.4,1469.7 230.6,1470.7 239.2,1469.3 247.6,1470.7 256.1,1471.3 264.3,1475.4 272.4,1475.8 281.2,1477.9 288.8,1477.9 296.9,1480.5 306.1,1478.9 314.3,1479.1 322.4,1478.1 330.6,1479.5 338.8,1477.9 346.9,1477.9 355.1,1479.1 363.3,1478.5 372.4,1475.4 380.6,1474 388.8,1474 396.9,1473.4 406.1,1473.4" fill="none" stroke="#000" stroke-width="1.85" stroke-linejoin="round"/>
<polyline points="71.4,1468.3 80.6,1467.9 89.2,1465.2 98,1467.3 106.1,1470.3 114.3,1472 122.4,1470.9 130.6,1470.3 138.8,1470.3 148,1470.3 156.1,1467.9 164.3,1464.8 172.4,1465.2 180.6,1464.6 188.8,1464.2 196.9,1463.8 205.7,1461.1 214.3,1462.2 222.4,1459.1 230.6,1457.7 239.2,1455.4 247.6,1457.1 256.1,1457.1 264.3,1460.1 272.4,1460.1 281.2,1459.1 288.8,1457.7 296.9,1460.1 306.1,1457.5 314.3,1458.7 322.4,1459.5 330.6,1461.1 338.8,1462.6 346.9,1462.2 355.1,1463.8 363.3,1464.2 372.4,1463.2 380.6,1461.8 388.8,1461.8 396.9,1462.6 406.1,1462.6" fill="none" stroke="#3F49A9" stroke-width="4" stroke-linejoin="round" stroke-linecap="butt" />
<text transform="translate(98 49) scale(1 1.22)" font-size="15" font-weight="bold">P1</text>
<text transform="translate(309 362) scale(0.965 1)" font-size="40">VLin</text>
<text transform="translate(296 679.8) scale(1.015 1)" font-size="40">VLout</text>
<text transform="translate(312.8 982) scale(1.06 1)" font-size="40">Tipin</text>
<text transform="translate(296.8 1346.2) scale(1.085 1)" font-size="40">Tipout</text>
<rect x="308.5" y="33.4" width="88.4" height="39.2" fill="#fff" stroke="#000" stroke-width="4.5"/>
<rect x="312.7" y="37.7" width="29.8" height="12.5" fill="#FF8B8F" stroke="#111" stroke-width="1.6"/>
<rect x="312.7" y="55.4" width="29.8" height="12.5" fill="#8D84CF" stroke="#111" stroke-width="1.6"/>
<text transform="translate(345.5 49.2) scale(1 1.1)" font-size="14">Gender</text>
<text transform="translate(345.5 67) scale(1 1.1)" font-size="14">Action</text>
</g>
<g id="panelA_right">
<g stroke="#000" stroke-width="4.7" fill="none" stroke-linecap="butt">
<path d="M541.6,23.15 V276.85"/>
<path d="M539.25,274.5 H876.25"/>
<path d="M541.6,238.929 h5.5"/>
<path d="M541.6,203.357 h5.5"/>
<path d="M541.6,167.786 h5.5"/>
<path d="M541.6,132.214 h5.5"/>
<path d="M541.6,96.6429 h5.5"/>
<path d="M541.6,61.0714 h5.5"/>
<path d="M541.6,25.5 h5.5"/>
<path d="M624.675,274.5 v-5.5"/>
<path d="M707.75,274.5 v-5.5"/>
<path d="M790.825,274.5 v-5.5"/>
<path d="M873.9,274.5 v-5.5"/>
</g>
<text transform="translate(534.8 280.303) scale(1 1.04)" font-size="15.5" text-anchor="end">-2</text>
<text transform="translate(534.8 244.732) scale(1 1.04)" font-size="15.5" text-anchor="end">0</text>
<text transform="translate(534.8 209.16) scale(1 1.04)" font-size="15.5" text-anchor="end">2</text>
<text transform="translate(534.8 173.589) scale(1 1.04)" font-size="15.5" text-anchor="end">4</text>
<text transform="translate(534.8 138.017) scale(1 1.04)" font-size="15.5" text-anchor="end">6</text>
<text transform="translate(534.8 102.446) scale(1 1.04)" font-size="15.5" text-anchor="end">8</text>
<text transform="translate(534.8 66.8746) scale(1 1.04)" font-size="15.5" text-anchor="end">10</text>
<text transform="translate(534.8 31.3032) scale(1 1.04)" font-size="15.5" text-anchor="end">12</text>
<text transform="translate(511 150) rotate(-90)" font-size="17" text-anchor="middle">z-pow</text>
<g stroke="#000" stroke-width="4.7" fill="none" stroke-linecap="butt">
<path d="M539.6,337.45 V591.15"/>
<path d="M537.25,588.8 H872.95"/>
<path d="M539.6,547.3 h5.5"/>
<path d="M539.6,505.8 h5.5"/>
<path d="M539.6,464.3 h5.5"/>
<path d="M539.6,422.8 h5.5"/>
<path d="M539.6,381.3 h5.5"/>
<path d="M539.6,339.8 h5.5"/>
<path d="M622.35,588.8 v-5.5"/>
<path d="M705.1,588.8 v-5.5"/>
<path d="M787.85,588.8 v-5.5"/>
<path d="M870.6,588.8 v-5.5"/>
</g>
<text transform="translate(532.8 594.603) scale(1 1.04)" font-size="15.5" text-anchor="end">-4</text>
<text transform="translate(532.8 553.103) scale(1 1.04)" font-size="15.5" text-anchor="end">-2</text>
<text transform="translate(532.8 511.603) scale(1 1.04)" font-size="15.5" text-anchor="end">0</text>
<text transform="translate(532.8 470.103) scale(1 1.04)" font-size="15.5" text-anchor="end">2</text>
<text transform="translate(532.8 428.603) scale(1 1.04)" font-size="15.5" text-anchor="end">4</text>
<text transform="translate(532.8 387.103) scale(1 1.04)" font-size="15.5" text-anchor="end">6</text>
<text transform="translate(532.8 345.603) scale(1 1.04)" font-size="15.5" text-anchor="end">8</text>
<text transform="translate(509.5 464.3) rotate(-90)" font-size="17" text-anchor="middle">UNC-Z-GC</text>
<g stroke="#000" stroke-width="4.7" fill="none" stroke-linecap="butt">
<path d="M539.6,640.35 V894.35"/>
<path d="M537.25,892 H872.95"/>
<path d="M539.6,850.45 h5.5"/>
<path d="M539.6,808.9 h5.5"/>
<path d="M539.6,767.35 h5.5"/>
<path d="M539.6,725.8 h5.5"/>
<path d="M539.6,684.25 h5.5"/>
<path d="M539.6,642.7 h5.5"/>
<path d="M622.35,892 v-5.5"/>
<path d="M705.1,892 v-5.5"/>
<path d="M787.85,892 v-5.5"/>
<path d="M870.6,892 v-5.5"/>
</g>
<text transform="translate(532.8 897.803) scale(1 1.04)" font-size="15.5" text-anchor="end">-2</text>
<text transform="translate(532.8 856.253) scale(1 1.04)" font-size="15.5" text-anchor="end">0</text>
<text transform="translate(532.8 814.703) scale(1 1.04)" font-size="15.5" text-anchor="end">2</text>
<text transform="translate(532.8 773.153) scale(1 1.04)" font-size="15.5" text-anchor="end">4</text>
<text transform="translate(532.8 731.603) scale(1 1.04)" font-size="15.5" text-anchor="end">6</text>
<text transform="translate(532.8 690.053) scale(1 1.04)" font-size="15.5" text-anchor="end">8</text>
<text transform="translate(532.8 648.503) scale(1 1.04)" font-size="15.5" text-anchor="end">10</text>
<text transform="translate(507.5 767.35) rotate(-90)" font-size="17" text-anchor="middle">UNC-Z-GC</text>
<g stroke="#000" stroke-width="4.7" fill="none" stroke-linecap="butt">
<path d="M534.5,949.25 V1203.55"/>
<path d="M532.15,1201.2 H868.05"/>
<path d="M534.5,1165.54 h5.5"/>
<path d="M534.5,1129.89 h5.5"/>
<path d="M534.5,1094.23 h5.5"/>
<path d="M534.5,1058.57 h5.5"/>
<path d="M534.5,1022.91 h5.5"/>
<path d="M534.5,987.257 h5.5"/>
<path d="M534.5,951.6 h5.5"/>
<path d="M617.3,1201.2 v-5.5"/>
<path d="M700.1,1201.2 v-5.5"/>
<path d="M782.9,1201.2 v-5.5"/>
<path d="M865.7,1201.2 v-5.5"/>
</g>
<text transform="translate(527.7 1207) scale(1 1.04)" font-size="15.5" text-anchor="end">-4</text>
<text transform="translate(527.7 1171.35) scale(1 1.04)" font-size="15.5" text-anchor="end">-2</text>
<text transform="translate(527.7 1135.69) scale(1 1.04)" font-size="15.5" text-anchor="end">0</text>
<text transform="translate(527.7 1100.03) scale(1 1.04)" font-size="15.5" text-anchor="end">2</text>
<text transform="translate(527.7 1064.37) scale(1 1.04)" font-size="15.5" text-anchor="end">4</text>
<text transform="translate(527.7 1028.72) scale(1 1.04)" font-size="15.5" text-anchor="end">6</text>
<text transform="translate(527.7 993.06) scale(1 1.04)" font-size="15.5" text-anchor="end">8</text>
<text transform="translate(527.7 957.403) scale(1 1.04)" font-size="15.5" text-anchor="end">10</text>
<text transform="translate(503 1076.4) rotate(-90)" font-size="17" text-anchor="middle">UNC-Z-GC</text>
<g stroke="#000" stroke-width="4.7" fill="none" stroke-linecap="butt">
<path d="M524.9,1270.65 V1524.35"/>
<path d="M522.55,1522 H860.35"/>
<path d="M524.9,1472.2 h5.5"/>
<path d="M524.9,1422.4 h5.5"/>
<path d="M524.9,1372.6 h5.5"/>
<path d="M524.9,1322.8 h5.5"/>
<path d="M524.9,1273 h5.5"/>
<path d="M608.175,1522 v-5.5"/>
<path d="M691.45,1522 v-5.5"/>
<path d="M774.725,1522 v-5.5"/>
<path d="M858,1522 v-5.5"/>
</g>
<text transform="translate(518.1 1527.8) scale(1 1.04)" font-size="15.5" text-anchor="end">-5</text>
<text transform="translate(518.1 1478) scale(1 1.04)" font-size="15.5" text-anchor="end">0</text>
<text transform="translate(518.1 1428.2) scale(1 1.04)" font-size="15.5" text-anchor="end">5</text>
<text transform="translate(518.1 1378.4) scale(1 1.04)" font-size="15.5" text-anchor="end">10</text>
<text transform="translate(518.1 1328.6) scale(1 1.04)" font-size="15.5" text-anchor="end">15</text>
<text transform="translate(518.1 1278.8) scale(1 1.04)" font-size="15.5" text-anchor="end">20</text>
<text transform="translate(524.3 1543) scale(1 1.06)" font-size="15.5" text-anchor="middle">0</text>
<text transform="translate(607.575 1543) scale(1 1.06)" font-size="15.5" text-anchor="middle">0.1</text>
<text transform="translate(690.85 1543) scale(1 1.06)" font-size="15.5" text-anchor="middle">0.2</text>
<text transform="translate(774.125 1543) scale(1 1.06)" font-size="15.5" text-anchor="middle">0.3</text>
<text transform="translate(857.4 1543) scale(1 1.06)" font-size="15.5" text-anchor="middle">0.4</text>
<text transform="translate(494.5 1397.5) rotate(-90)" font-size="17" text-anchor="middle">UNC-Z-GC</text>
<text x="691.45" y="1565" font-size="17" text-anchor="middle">t (s)</text>
<polygon points="539.6,228.8 548.8,226.7 557.6,225.7 566.1,220.6 574.3,217.6 582.4,209.2 590.6,210.2 598.8,208.2 608,219.6 616.1,226.7 624.3,238 632.4,247.1 640.6,252.2 648.8,254.7 656.9,257.3 665.7,255.9 674.3,249.2 682.4,245.7 690.6,231.8 698.8,220.6 707.3,203.3 715.5,184.9 720.2,164.5 724.3,132.7 732.4,95.9 741.2,66.3 748.8,52.7 756.9,49 765.1,59.2 774.3,76.5 782.4,90.8 790.6,106.1 798.8,123.5 806.9,139.8 815.1,158.2 823.3,176.5 832.4,195.9 840.6,213.7 848.8,220.6 856.9,227.8 865.1,231.8 873.9,241.6 873.9,247.3 865.1,237.6 856.9,233.5 848.8,226.3 840.6,225.1 832.4,212.2 823.3,196.9 815.1,181.6 806.9,167.3 798.8,153.1 790.6,140.8 782.4,129.6 774.3,117.3 765.1,102 756.9,91.8 748.8,95.5 741.2,105.1 732.4,132.7 724.3,159.2 720.2,170.2 715.5,190.6 707.3,209 698.8,226.3 690.6,237.6 682.4,251.4 674.3,254.9 665.7,261.6 656.9,263.1 648.8,260.4 640.6,258 632.4,252.9 624.3,243.7 616.1,232.4 608,225.3 598.8,216.3 590.6,218 582.4,216.9 574.3,223.3 566.1,226.3 557.6,231.4 548.8,232.4 539.6,234.5" fill="#FF8B8F"/><polyline points="539.6,228.8 548.8,226.7 557.6,225.7 566.1,220.6 574.3,217.6 582.4,209.2 590.6,210.2 598.8,208.2 608,219.6 616.1,226.7 624.3,238 632.4,247.1 640.6,252.2 648.8,254.7 656.9,257.3 665.7,255.9 674.3,249.2 682.4,245.7 690.6,231.8 698.8,220.6 707.3,203.3 715.5,184.9 720.2,164.5 724.3,132.7 732.4,95.9 741.2,66.3 748.8,52.7 756.9,49 765.1,59.2 774.3,76.5 782.4,90.8 790.6,106.1 798.8,123.5 806.9,139.8 815.1,158.2 823.3,176.5 832.4,195.9 840.6,213.7 848.8,220.6 856.9,227.8 865.1,231.8 873.9,241.6" fill="none" stroke="#000" stroke-width="1.85" stroke-linejoin="round"/><polyline points="539.6,234.5 548.8,232.4 557.6,231.4 566.1,226.3 574.3,223.3 582.4,216.9 590.6,218 598.8,216.3 608,225.3 616.1,232.4 624.3,243.7 632.4,252.9 640.6,258 648.8,260.4 656.9,263.1 665.7,261.6 674.3,254.9 682.4,251.4 690.6,237.6 698.8,226.3 707.3,209 715.5,190.6 720.2,170.2 724.3,159.2 732.4,132.7 741.2,105.1 748.8,95.5 756.9,91.8 765.1,102 774.3,117.3 782.4,129.6 790.6,140.8 798.8,153.1 806.9,167.3 815.1,181.6 823.3,196.9 832.4,212.2 840.6,225.1 848.8,226.3 856.9,233.5 865.1,237.6 873.9,247.3" fill="none" stroke="#000" stroke-width="1.85" stroke-linejoin="round"/>
<polyline points="539.6,231.6 548.8,229.6 557.6,228.6 566.1,223.5 574.3,220.4 582.4,213.3 590.6,214.3 598.8,212.7 608,222.4 616.1,229.6 624.3,240.8 632.4,250 640.6,255.1 648.8,257.6 656.9,260.2 665.7,258.8 674.3,252 682.4,248.6 690.6,234.7 698.8,223.5 707.3,206.1 715.5,187.8 720.2,167.3 724.3,146.9 732.4,116.3 741.2,85.7 748.8,75.5 756.9,71.8 765.1,81.6 774.3,98 782.4,111.2 790.6,124.5 798.8,138.8 806.9,154.1 815.1,170.4 823.3,186.7 832.4,204.1 840.6,219.4 848.8,223.5 856.9,230.6 865.1,234.7 873.9,244.5" fill="none" stroke="#E02A1B" stroke-width="4" stroke-linejoin="round" stroke-linecap="butt" />
<polygon points="539.6,239 548.8,246.1 557.6,241.6 566.1,250.2 574.3,250.2 582.4,255.3 590.6,252.2 598.8,251.2 608,247.1 616.1,245.1 624.3,242.9 632.4,240.8 640.6,241.4 648.8,242.4 656.9,243.9 665.7,241.8 674.3,244.3 682.4,242.2 690.6,250.2 698.8,251.2 707.3,255.5 715.5,254.1 724.3,253.5 732.4,250.6 741.2,247.3 748.8,248.4 756.9,250 765.1,256.1 774.3,260.2 782.4,262.2 790.6,255.5 798.8,254.3 806.9,246.1 815.1,239 823.3,226.7 832.4,213.5 840.6,191.8 848.8,181.6 856.9,173.9 865.1,179.6 873.9,191.8 873.9,210.2 865.1,199 856.9,193.5 848.8,199.6 840.6,209.2 832.4,219.2 823.3,232.4 815.1,244.7 806.9,251.8 798.8,260 790.6,262 782.4,270.4 774.3,269.4 765.1,264.3 756.9,257.6 748.8,256.1 741.2,258.2 732.4,263.7 724.3,267.8 715.5,266.3 707.3,266.9 698.8,256.9 690.6,255.9 682.4,249.4 674.3,251.8 665.7,249.8 656.9,252.9 648.8,251.4 640.6,250.2 632.4,248.8 624.3,249.4 616.1,250.8 608,252.9 598.8,256.9 590.6,258 582.4,261 574.3,255.9 566.1,255.9 557.6,247.3 548.8,251.8 539.6,244.7" fill="#8D84CF"/><polyline points="539.6,239 548.8,246.1 557.6,241.6 566.1,250.2 574.3,250.2 582.4,255.3 590.6,252.2 598.8,251.2 608,247.1 616.1,245.1 624.3,242.9 632.4,240.8 640.6,241.4 648.8,242.4 656.9,243.9 665.7,241.8 674.3,244.3 682.4,242.2 690.6,250.2 698.8,251.2 707.3,255.5 715.5,254.1 724.3,253.5 732.4,250.6 741.2,247.3 748.8,248.4 756.9,250 765.1,256.1 774.3,260.2 782.4,262.2 790.6,255.5 798.8,254.3 806.9,246.1 815.1,239 823.3,226.7 832.4,213.5 840.6,191.8 848.8,181.6 856.9,173.9 865.1,179.6 873.9,191.8" fill="none" stroke="#000" stroke-width="1.85" stroke-linejoin="round"/><polyline points="539.6,244.7 548.8,251.8 557.6,247.3 566.1,255.9 574.3,255.9 582.4,261 590.6,258 598.8,256.9 608,252.9 616.1,250.8 624.3,249.4 632.4,248.8 640.6,250.2 648.8,251.4 656.9,252.9 665.7,249.8 674.3,251.8 682.4,249.4 690.6,255.9 698.8,256.9 707.3,266.9 715.5,266.3 724.3,267.8 732.4,263.7 741.2,258.2 748.8,256.1 756.9,257.6 765.1,264.3 774.3,269.4 782.4,270.4 790.6,262 798.8,260 806.9,251.8 815.1,244.7 823.3,232.4 832.4,219.2 840.6,209.2 848.8,199.6 856.9,193.5 865.1,199 873.9,210.2" fill="none" stroke="#000" stroke-width="1.85" stroke-linejoin="round"/>
<polyline points="539.6,241.8 548.8,249 557.6,244.5 566.1,253.1 574.3,253.1 582.4,258.2 590.6,255.1 598.8,254.1 608,250 616.1,248 624.3,246.5 632.4,245.9 640.6,247.3 648.8,248.6 656.9,250 665.7,246.9 674.3,249 682.4,246.5 690.6,253.1 698.8,254.1 707.3,261.6 715.5,260.8 724.3,261.2 732.4,257.6 741.2,253.1 748.8,253.1 756.9,254.1 765.1,260.2 774.3,264.9 782.4,266.3 790.6,259.2 798.8,257.1 806.9,249 815.1,241.8 823.3,229.6 832.4,216.3 840.6,203.1 848.8,192.9 856.9,184.7 865.1,189.8 873.9,201" fill="none" stroke="#3F49A9" stroke-width="4" stroke-linejoin="round" stroke-linecap="butt" />
<polygon points="539.6,492.9 545.7,489.8 554.3,480.6 563.1,479.6 571.2,474.9 579.4,476.5 588.2,474.9 596.3,487.8 613.1,483.7 633.5,479.6 654.9,479.6 662.7,469 671.2,466.3 679.4,456.1 688,437.1 696.1,429.6 704.5,417.3 712.7,376.9 721.2,363.7 729.4,362.2 737.6,342.4 746.1,352 754.3,351.4 762.7,341.2 771.2,348.4 779.4,354.7 787.6,377.1 796.3,393.5 804.5,402 812.7,396.9 821.2,414.7 829.4,419.8 837.6,450 845.7,467.8 853.9,469.4 862,477.6 870.6,475.5 870.6,529.6 862,526.9 853.9,526.9 845.7,520.4 837.6,516.3 835.5,512.2 823.3,508.2 806.9,500 796.3,486.7 787.6,469.8 779.4,459.2 771.2,459.8 762.7,460.8 754.3,471 746.1,487.8 737.6,483.3 729.4,475.9 721.2,473.1 712.7,484.7 704.5,495.9 700.8,503.1 684.5,520.4 662.7,530 654.9,537.8 646.1,546.5 637.6,545.9 629.4,545.9 621.2,541.2 613.1,533.7 602.9,532.7 582.4,532.7 562,534.7 539.6,534.7" fill="#FF8B8F"/><polyline points="539.6,492.9 545.7,489.8 554.3,480.6 563.1,479.6 571.2,474.9 579.4,476.5 588.2,474.9 596.3,487.8 613.1,483.7 633.5,479.6 654.9,479.6 662.7,469 671.2,466.3 679.4,456.1 688,437.1 696.1,429.6 704.5,417.3 712.7,376.9 721.2,363.7 729.4,362.2 737.6,342.4 746.1,352 754.3,351.4 762.7,341.2 771.2,348.4 779.4,354.7 787.6,377.1 796.3,393.5 804.5,402 812.7,396.9 821.2,414.7 829.4,419.8 837.6,450 845.7,467.8 853.9,469.4 862,477.6 870.6,475.5" fill="none" stroke="#000" stroke-width="1.85" stroke-linejoin="round"/><polyline points="539.6,534.7 562,534.7 582.4,532.7 602.9,532.7 613.1,533.7 621.2,541.2 629.4,545.9 637.6,545.9 646.1,546.5 654.9,537.8 662.7,530 684.5,520.4 700.8,503.1 704.5,495.9 712.7,484.7 721.2,473.1 729.4,475.9 737.6,483.3 746.1,487.8 754.3,471 762.7,460.8 771.2,459.8 779.4,459.2 787.6,469.8 796.3,486.7 806.9,500 823.3,508.2 835.5,512.2 837.6,516.3 845.7,520.4 853.9,526.9 862,526.9 870.6,529.6" fill="none" stroke="#000" stroke-width="1.85" stroke-linejoin="round"/>
<polyline points="536.5,513.9 562,510.2 602.9,510.2 643.7,512.2 664.1,504.1 677.3,488.8 688,475.9 696.1,469.4 704.5,456.1 712.7,429.6 721.2,418.4 729.4,419 737.6,413.3 746.1,420.4 754.3,411.2 762.7,401 771.2,404.1 779.4,406.7 787.6,423.5 796.3,439.8 804.5,443.9 812.7,442.4 821.2,452.7 829.4,458.8 832.4,469.4 839.6,489.8 853.9,502 871.2,509.2" fill="none" stroke="#E02A1B" stroke-width="4" stroke-linejoin="round" stroke-linecap="butt" />
<polygon points="539.6,495.3 546.7,499 554.3,497.3 563.1,498.4 571.2,494.3 579.4,492.2 588.2,486.1 596.3,489.2 604.9,477.6 613.1,462.9 621.2,463.3 629.4,466.9 637.6,465.9 646.1,470 654.9,479.6 662.7,486.1 671.2,490.4 679.4,490.2 688,495.5 696.1,498 704.5,510.6 712.7,520.4 721.2,512.9 729.4,516.3 737.6,512.7 746.1,502 754.3,502 762.7,506.1 771.2,505.1 779.4,496.9 787.6,489.2 796.3,486.7 804.5,479.2 812.7,465.3 821.2,462.2 829.4,473.5 837.6,466.3 845.7,469 853.9,469.8 862,478.2 870.6,475.9 870.6,516.3 862,512.7 853.9,513.3 845.7,514.7 837.6,511.6 829.4,516.3 821.2,512.7 812.7,511.8 804.5,517.3 796.3,528.6 787.6,535.7 779.4,539.4 771.2,544.5 762.7,543.3 754.3,539.8 746.1,542.4 737.6,550.6 729.4,554.5 721.2,555.1 712.7,557.8 704.5,553.1 696.1,548 688,543.3 679.4,532 671.2,532 662.7,530 654.9,524.9 646.1,530 637.6,526.9 629.4,525.5 621.2,527.6 613.1,525.1 604.9,531.6 596.3,538.2 588.2,536.3 579.4,535.3 571.2,539.8 563.1,540.4 554.3,542.9 546.7,533.7 539.6,536.1" fill="#8D84CF"/><polyline points="539.6,495.3 546.7,499 554.3,497.3 563.1,498.4 571.2,494.3 579.4,492.2 588.2,486.1 596.3,489.2 604.9,477.6 613.1,462.9 621.2,463.3 629.4,466.9 637.6,465.9 646.1,470 654.9,479.6 662.7,486.1 671.2,490.4 679.4,490.2 688,495.5 696.1,498 704.5,510.6 712.7,520.4 721.2,512.9 729.4,516.3 737.6,512.7 746.1,502 754.3,502 762.7,506.1 771.2,505.1 779.4,496.9 787.6,489.2 796.3,486.7 804.5,479.2 812.7,465.3 821.2,462.2 829.4,473.5 837.6,466.3 845.7,469 853.9,469.8 862,478.2 870.6,475.9" fill="none" stroke="#000" stroke-width="1.85" stroke-linejoin="round"/><polyline points="539.6,536.1 546.7,533.7 554.3,542.9 563.1,540.4 571.2,539.8 579.4,535.3 588.2,536.3 596.3,538.2 604.9,531.6 613.1,525.1 621.2,527.6 629.4,525.5 637.6,526.9 646.1,530 654.9,524.9 662.7,530 671.2,532 679.4,532 688,543.3 696.1,548 704.5,553.1 712.7,557.8 721.2,555.1 729.4,554.5 737.6,550.6 746.1,542.4 754.3,539.8 762.7,543.3 771.2,544.5 779.4,539.4 787.6,535.7 796.3,528.6 804.5,517.3 812.7,511.8 821.2,512.7 829.4,516.3 837.6,511.6 845.7,514.7 853.9,513.3 862,512.7 870.6,516.3" fill="none" stroke="#000" stroke-width="1.85" stroke-linejoin="round"/>
<polyline points="536.5,515.9 546.7,516.3 554.3,520 563.1,519.4 571.2,516.7 579.4,513.3 588.2,510.8 596.3,513.9 604.9,504.1 613.1,493.3 621.2,494.9 629.4,495.9 637.6,496.3 646.1,500 654.9,502 662.7,508.2 671.2,511.8 679.4,511.2 688,519.4 696.1,522.9 704.5,531.6 712.7,538.8 721.2,533.7 729.4,535.7 737.6,531.6 746.1,522 754.3,520.8 762.7,524.5 771.2,524.9 779.4,518.4 787.6,512.7 796.3,508.2 804.5,498 812.7,487.8 821.2,487.1 829.4,494.9 837.6,488.8 845.7,491.8 853.9,491.8 862,495.5 870.6,496.3" fill="none" stroke="#3F49A9" stroke-width="4" stroke-linejoin="round" stroke-linecap="butt" />
<polygon points="539.6,821.2 546.7,823.3 554.3,818.2 563.1,815.7 571.2,817.6 579.4,822.2 588.2,825.7 596.3,829 604.9,822.7 613.1,822.2 621.2,817.1 629.4,820.2 637.6,805.5 646.1,798.2 654.9,794.3 662.7,796.1 671.2,796.7 679.4,805.9 688,815.1 696.1,803.9 704.5,790.6 712.7,756.9 721.2,744.7 729.4,743.1 737.6,718.2 746.1,700.2 754.3,688.2 762.7,670.2 771.2,680 779.4,696.7 787.6,721.2 796.3,746.3 804.5,752.9 812.7,765.5 821.2,770.8 829.4,779.4 837.6,787.6 845.7,799.4 853.9,809.6 862,812.4 870.6,819.8 870.6,874.3 860,869.2 847.8,865.1 827.3,854.9 804.5,840.2 796.3,835.5 787.6,823.3 779.4,811 771.2,803.9 762.7,810 754.3,811 746.1,811 737.6,820.2 731.4,825.3 704.9,844.7 664.1,854.9 623.3,865.1 582.4,865.1 545.7,868.2 539.6,869.2 537.6,861" fill="#FF8B8F"/><polyline points="539.6,821.2 546.7,823.3 554.3,818.2 563.1,815.7 571.2,817.6 579.4,822.2 588.2,825.7 596.3,829 604.9,822.7 613.1,822.2 621.2,817.1 629.4,820.2 637.6,805.5 646.1,798.2 654.9,794.3 662.7,796.1 671.2,796.7 679.4,805.9 688,815.1 696.1,803.9 704.5,790.6 712.7,756.9 721.2,744.7 729.4,743.1 737.6,718.2 746.1,700.2 754.3,688.2 762.7,670.2 771.2,680 779.4,696.7 787.6,721.2 796.3,746.3 804.5,752.9 812.7,765.5 821.2,770.8 829.4,779.4 837.6,787.6 845.7,799.4 853.9,809.6 862,812.4 870.6,819.8" fill="none" stroke="#000" stroke-width="1.85" stroke-linejoin="round"/><polyline points="537.6,861 539.6,869.2 545.7,868.2 582.4,865.1 623.3,865.1 664.1,854.9 704.9,844.7 731.4,825.3 737.6,820.2 746.1,811 754.3,811 762.7,810 771.2,803.9 779.4,811 787.6,823.3 796.3,835.5 804.5,840.2 827.3,854.9 847.8,865.1 860,869.2 870.6,874.3" fill="none" stroke="#000" stroke-width="1.85" stroke-linejoin="round"/>
<polyline points="536.5,844.7 582.4,850.8 643.7,844.7 684.5,838.6 703.9,820.2 712.7,794.7 721.2,789.2 729.4,785.1 737.6,769.2 746.1,755.5 754.3,749.4 762.7,740 771.2,742.2 779.4,753.9 787.6,771.2 796.3,789.6 804.5,795.7 812.7,805.9 821.2,808.4 829.4,814.1 837.6,818.6 841.6,822.2 858,838.6 871.2,847.8" fill="none" stroke="#E02A1B" stroke-width="4" stroke-linejoin="round" stroke-linecap="butt" />
<polygon points="539.6,822.2 546.7,824.3 554.3,827.3 563.1,834.5 571.2,821.2 579.4,836.1 588.2,840.2 596.3,839.6 604.9,842.2 613.1,836.9 621.2,836.9 629.4,834.1 637.6,834.9 646.1,832 654.9,826.7 662.7,814.1 671.2,795.7 679.4,802.2 688,814.7 696.1,819.2 704.5,820.8 712.7,821.2 721.2,821.2 729.4,825.7 737.6,833.1 746.1,827.8 754.3,832.4 762.7,834.9 771.2,822.7 779.4,828.8 787.6,839.6 796.3,836.9 804.5,840 812.7,830 821.2,821.6 829.4,820.2 837.6,822.7 845.7,823.3 853.9,826.3 862,820.2 870.6,819.8 870.6,868.2 862,868.6 853.9,872.7 845.7,874.3 837.6,876.3 829.4,873.3 821.2,871.6 812.7,876.7 804.5,882 796.3,884.9 787.6,885.5 779.4,887.6 771.2,884.5 762.7,882.4 754.3,875.3 746.1,876.9 737.6,875.9 729.4,874.3 721.2,872.7 712.7,875.7 704.5,878 696.1,879.4 688,874.7 679.4,871.8 671.2,868.8 662.7,877.3 654.9,878.8 646.1,885.9 637.6,886.5 629.4,884.9 621.2,882.9 613.1,882 604.9,883.9 596.3,887.1 588.2,882 579.4,881.4 571.2,879 563.1,876.7 554.3,880.4 546.7,870.2 539.6,862" fill="#8D84CF"/><polyline points="539.6,822.2 546.7,824.3 554.3,827.3 563.1,834.5 571.2,821.2 579.4,836.1 588.2,840.2 596.3,839.6 604.9,842.2 613.1,836.9 621.2,836.9 629.4,834.1 637.6,834.9 646.1,832 654.9,826.7 662.7,814.1 671.2,795.7 679.4,802.2 688,814.7 696.1,819.2 704.5,820.8 712.7,821.2 721.2,821.2 729.4,825.7 737.6,833.1 746.1,827.8 754.3,832.4 762.7,834.9 771.2,822.7 779.4,828.8 787.6,839.6 796.3,836.9 804.5,840 812.7,830 821.2,821.6 829.4,820.2 837.6,822.7 845.7,823.3 853.9,826.3 862,820.2 870.6,819.8" fill="none" stroke="#000" stroke-width="1.85" stroke-linejoin="round"/><polyline points="539.6,862 546.7,870.2 554.3,880.4 563.1,876.7 571.2,879 579.4,881.4 588.2,882 596.3,887.1 604.9,883.9 613.1,882 621.2,882.9 629.4,884.9 637.6,886.5 646.1,885.9 654.9,878.8 662.7,877.3 671.2,868.8 679.4,871.8 688,874.7 696.1,879.4 704.5,878 712.7,875.7 721.2,872.7 729.4,874.3 737.6,875.9 746.1,876.9 754.3,875.3 762.7,882.4 771.2,884.5 779.4,887.6 787.6,885.5 796.3,884.9 804.5,882 812.7,876.7 821.2,871.6 829.4,873.3 837.6,876.3 845.7,874.3 853.9,872.7 862,868.6 870.6,868.2" fill="none" stroke="#000" stroke-width="1.85" stroke-linejoin="round"/>
<polyline points="536.5,841.6 546.7,847.8 554.3,853.9 563.1,855.9 571.2,849.8 579.4,858.6 588.2,861.4 596.3,863.7 604.9,863.5 613.1,859.6 621.2,860 629.4,859.4 637.6,860.6 646.1,859 654.9,852.2 662.7,845.7 671.2,832 679.4,836.5 688,844.7 696.1,849.4 704.5,849.8 712.7,848.8 721.2,847.1 729.4,850.8 737.6,854.5 746.1,852.4 754.3,853.9 762.7,858.6 771.2,853.3 779.4,858 787.6,862.7 796.3,860.6 804.5,861 812.7,853.5 821.2,846.7 829.4,846.7 837.6,849.4 845.7,848.4 853.9,848.8 862,844.1 870.6,843.7" fill="none" stroke="#3F49A9" stroke-width="4" stroke-linejoin="round" stroke-linecap="butt" />
<polygon points="532.9,1117.3 541.6,1108.8 549.8,1100.6 558,1098.6 566.1,1107.8 574.3,1116.3 582.4,1116.9 591.6,1122 599.8,1122 608,1119 616.1,1115.5 643.7,1118 658,1116.9 666.1,1108.2 674.3,1094.5 682.4,1082.9 690.6,1062.9 699.2,1037.8 707.6,1004.7 716.1,988.4 724.3,977.8 732.4,974.1 741.2,979.2 749.4,982.9 757.6,967.3 766.1,971.4 774.3,975.7 782.4,1002.7 791,1019.6 799.2,1031.2 807.6,1038.4 816.1,1046.5 824.3,1043.1 829.8,1060.8 832.4,1066.9 847.8,1083.3 866.1,1103.7 866.1,1153.1 856.9,1147.6 848.8,1139.4 839.6,1126.1 823.3,1103.7 807.6,1086.3 799.2,1081.6 791,1069 782.4,1055.7 774.3,1041.4 766.1,1040 757.6,1041.8 749.4,1054.1 741.2,1057.1 732.4,1056.1 724.3,1063.9 716.1,1071 707.6,1087.3 699.2,1111.4 690.6,1126.5 680.4,1140.4 664.1,1154.7 656.9,1158.4 648.8,1160.8 640.6,1165.9 632.4,1167.3 624.3,1159.8 616.1,1151.6 608,1147.6 592.7,1146.5 562,1144.5 532.9,1144.5" fill="#FF8B8F"/><polyline points="532.9,1117.3 541.6,1108.8 549.8,1100.6 558,1098.6 566.1,1107.8 574.3,1116.3 582.4,1116.9 591.6,1122 599.8,1122 608,1119 616.1,1115.5 643.7,1118 658,1116.9 666.1,1108.2 674.3,1094.5 682.4,1082.9 690.6,1062.9 699.2,1037.8 707.6,1004.7 716.1,988.4 724.3,977.8 732.4,974.1 741.2,979.2 749.4,982.9 757.6,967.3 766.1,971.4 774.3,975.7 782.4,1002.7 791,1019.6 799.2,1031.2 807.6,1038.4 816.1,1046.5 824.3,1043.1 829.8,1060.8 832.4,1066.9 847.8,1083.3 866.1,1103.7" fill="none" stroke="#000" stroke-width="1.85" stroke-linejoin="round"/><polyline points="532.9,1144.5 562,1144.5 592.7,1146.5 608,1147.6 616.1,1151.6 624.3,1159.8 632.4,1167.3 640.6,1165.9 648.8,1160.8 656.9,1158.4 664.1,1154.7 680.4,1140.4 690.6,1126.5 699.2,1111.4 707.6,1087.3 716.1,1071 724.3,1063.9 732.4,1056.1 741.2,1057.1 749.4,1054.1 757.6,1041.8 766.1,1040 774.3,1041.4 782.4,1055.7 791,1069 799.2,1081.6 807.6,1086.3 823.3,1103.7 839.6,1126.1 848.8,1139.4 856.9,1147.6 866.1,1153.1" fill="none" stroke="#000" stroke-width="1.85" stroke-linejoin="round"/>
<polyline points="532.9,1135.3 541.6,1130.2 549.8,1121.6 558,1120 566.1,1125.7 571.2,1129.2 592.7,1136.3 615.1,1140.4 632.4,1146.5 640.6,1148.6 643.7,1147.6 660,1132.2 672.2,1119 682.4,1109.8 690.6,1094.5 699.2,1075.1 707.6,1045.5 716.1,1029.2 724.3,1020.4 732.4,1014.9 741.2,1017.6 749.4,1018.4 757.6,1004.7 766.1,1005.7 774.3,1008.4 782.4,1030.2 791,1044.9 799.2,1056.3 807.6,1061.8 816.1,1067.6 824.3,1066.5 827.3,1069 839.6,1103.7 856.9,1128.2 866.1,1132.7" fill="none" stroke="#E02A1B" stroke-width="4" stroke-linejoin="round" stroke-linecap="butt" />
<polygon points="532.9,1123.7 541.6,1128.2 549.8,1131.6 558,1132.9 566.1,1134.3 574.3,1126.5 582.4,1128.2 591.6,1127.8 599.8,1127.6 608,1120.6 616.1,1115.3 624.3,1112.9 632.4,1111.8 640.6,1114.5 648.8,1112.2 656.9,1118 666.1,1122 674.3,1121.6 682.4,1129.8 690.6,1128.2 699.2,1131.6 707.6,1134.9 716.1,1131.2 724.3,1129.2 732.4,1126.7 741.2,1118.6 749.4,1115.9 757.6,1116.9 766.1,1111.8 774.3,1106.1 782.4,1112.9 791,1111.2 799.2,1098.6 807.6,1087.8 816.1,1076.1 824.3,1069.6 832.4,1060.4 840.6,1065.3 848.8,1067.6 856.9,1066.5 866.1,1064.9 866.1,1123.5 856.9,1125.1 848.8,1133.3 840.6,1126.1 832.4,1121.6 824.3,1123.7 816.1,1127.6 807.6,1131.6 799.2,1140.4 791,1149.2 782.4,1151.6 774.3,1145.5 766.1,1152 757.6,1155.7 749.4,1158.8 741.2,1163.3 732.4,1166.9 724.3,1168.4 716.1,1171 707.6,1169.6 699.2,1168.6 690.6,1167.6 682.4,1163.3 674.3,1156.7 666.1,1155.3 656.9,1152 648.8,1148.2 640.6,1145.1 632.4,1145.9 624.3,1144.5 616.1,1145.5 608,1147.6 599.8,1156.1 591.6,1157.8 582.4,1157.8 574.3,1155.3 566.1,1159.8 558,1161.2 549.8,1156.7 541.6,1157.8 532.9,1152.7" fill="#8D84CF"/><polyline points="532.9,1123.7 541.6,1128.2 549.8,1131.6 558,1132.9 566.1,1134.3 574.3,1126.5 582.4,1128.2 591.6,1127.8 599.8,1127.6 608,1120.6 616.1,1115.3 624.3,1112.9 632.4,1111.8 640.6,1114.5 648.8,1112.2 656.9,1118 666.1,1122 674.3,1121.6 682.4,1129.8 690.6,1128.2 699.2,1131.6 707.6,1134.9 716.1,1131.2 724.3,1129.2 732.4,1126.7 741.2,1118.6 749.4,1115.9 757.6,1116.9 766.1,1111.8 774.3,1106.1 782.4,1112.9 791,1111.2 799.2,1098.6 807.6,1087.8 816.1,1076.1 824.3,1069.6 832.4,1060.4 840.6,1065.3 848.8,1067.6 856.9,1066.5 866.1,1064.9" fill="none" stroke="#000" stroke-width="1.85" stroke-linejoin="round"/><polyline points="532.9,1152.7 541.6,1157.8 549.8,1156.7 558,1161.2 566.1,1159.8 574.3,1155.3 582.4,1157.8 591.6,1157.8 599.8,1156.1 608,1147.6 616.1,1145.5 624.3,1144.5 632.4,1145.9 640.6,1145.1 648.8,1148.2 656.9,1152 666.1,1155.3 674.3,1156.7 682.4,1163.3 690.6,1167.6 699.2,1168.6 707.6,1169.6 716.1,1171 724.3,1168.4 732.4,1166.9 741.2,1163.3 749.4,1158.8 757.6,1155.7 766.1,1152 774.3,1145.5 782.4,1151.6 791,1149.2 799.2,1140.4 807.6,1131.6 816.1,1127.6 824.3,1123.7 832.4,1121.6 840.6,1126.1 848.8,1133.3 856.9,1125.1 866.1,1123.5" fill="none" stroke="#000" stroke-width="1.85" stroke-linejoin="round"/>
<polyline points="532.9,1139 541.6,1142.9 549.8,1144.5 558,1146.9 566.1,1146.9 574.3,1140 582.4,1142.4 591.6,1142.4 599.8,1141.4 608,1133.9 616.1,1130.8 624.3,1128.8 632.4,1129.2 640.6,1129.8 648.8,1129.8 656.9,1134.3 666.1,1138.4 674.3,1139 682.4,1146.1 690.6,1147.6 699.2,1150.2 707.6,1152.7 716.1,1151 724.3,1148.6 732.4,1146.5 741.2,1140.4 749.4,1137.3 757.6,1136.3 766.1,1132.9 774.3,1126.1 782.4,1132.7 791,1129.8 799.2,1119.6 807.6,1109.4 816.1,1101 824.3,1095.9 832.4,1090.4 840.6,1095.5 848.8,1100.2 856.9,1095.9 866.1,1094.1" fill="none" stroke="#3F49A9" stroke-width="4" stroke-linejoin="round" stroke-linecap="butt" />
<polygon points="524.9,1453 533.5,1452.6 541.6,1453 549.8,1450.9 558,1458.7 566.1,1460.5 574.3,1461.1 582.4,1460.7 591.6,1461.1 599.8,1464.2 643.7,1462.2 674.3,1458.1 682.4,1441.8 690.6,1424 699.2,1392.8 707.6,1374.4 716.1,1366.2 724.3,1345.4 732.4,1335.6 741.2,1329.1 749.4,1308.7 757.6,1304.6 766.1,1307.5 774.3,1340.7 782.4,1357.1 791,1364.8 799.2,1372 807.6,1383.2 816.1,1387.7 824.3,1408.1 832.4,1427.9 847.8,1437.7 858,1449.9 858,1476.4 837.6,1470.3 817.1,1462.2 799.2,1451.3 791,1445.4 782.4,1444.2 774.3,1435.2 766.1,1426.4 757.6,1417.7 749.4,1420.3 741.2,1430.1 732.4,1434.6 724.3,1440.3 716.1,1446.9 707.6,1448.9 698.8,1455 684.5,1468.3 666.1,1480.5 656.9,1482.2 648.8,1485 640.6,1484.6 632.4,1484.2 624.3,1487.3 616.1,1487.1 608,1485.6 599.8,1484.2 562,1480.5 524.9,1478.5" fill="#FF8B8F"/><polyline points="524.9,1453 533.5,1452.6 541.6,1453 549.8,1450.9 558,1458.7 566.1,1460.5 574.3,1461.1 582.4,1460.7 591.6,1461.1 599.8,1464.2 643.7,1462.2 674.3,1458.1 682.4,1441.8 690.6,1424 699.2,1392.8 707.6,1374.4 716.1,1366.2 724.3,1345.4 732.4,1335.6 741.2,1329.1 749.4,1308.7 757.6,1304.6 766.1,1307.5 774.3,1340.7 782.4,1357.1 791,1364.8 799.2,1372 807.6,1383.2 816.1,1387.7 824.3,1408.1 832.4,1427.9 847.8,1437.7 858,1449.9" fill="none" stroke="#000" stroke-width="1.85" stroke-linejoin="round"/><polyline points="524.9,1478.5 562,1480.5 599.8,1484.2 608,1485.6 616.1,1487.1 624.3,1487.3 632.4,1484.2 640.6,1484.6 648.8,1485 656.9,1482.2 666.1,1480.5 684.5,1468.3 698.8,1455 707.6,1448.9 716.1,1446.9 724.3,1440.3 732.4,1434.6 741.2,1430.1 749.4,1420.3 757.6,1417.7 766.1,1426.4 774.3,1435.2 782.4,1444.2 791,1445.4 799.2,1451.3 817.1,1462.2 837.6,1470.3 858,1476.4" fill="none" stroke="#000" stroke-width="1.85" stroke-linejoin="round"/>
<polyline points="523.3,1467.3 533.5,1465.2 541.6,1465.2 549.8,1464.2 553.9,1466.7 582.4,1472.4 643.7,1472.4 672.2,1468.3 683.5,1458.1 690.6,1445.8 699.2,1423 707.6,1411.6 716.1,1406.7 724.3,1392.8 732.4,1385.2 741.2,1379.9 749.4,1364.8 757.6,1361.6 766.1,1366.2 774.3,1387.7 782.4,1399.9 791,1404.6 799.2,1411.1 807.6,1420.3 816.1,1423.4 822.2,1434.6 837.6,1454 858.4,1465.2" fill="none" stroke="#E02A1B" stroke-width="4" stroke-linejoin="round" stroke-linecap="butt" />
<polygon points="524.9,1465.2 533.5,1467.9 541.6,1468.3 549.8,1469.9 558,1466.2 566.1,1465.8 574.3,1464.2 582.4,1462.6 591.6,1463.8 599.8,1464.2 608,1463.8 616.1,1463.2 624.3,1463.2 632.4,1462.6 640.6,1459.1 648.8,1458.1 656.9,1456.7 666.1,1455 674.3,1458.1 682.4,1458.7 690.6,1456.7 699.2,1455.6 707.6,1456 716.1,1453 724.3,1450.9 732.4,1452 741.2,1452 749.4,1457.1 757.6,1455 766.1,1458.1 774.3,1463.8 782.4,1462.2 791,1460.7 799.2,1451.6 807.6,1445.8 816.1,1439.7 824.3,1433.6 832.4,1428.1 840.6,1427.5 848.8,1424 858,1425.8 858,1477.9 848.8,1479.1 840.6,1478.5 832.4,1479.5 824.3,1480.1 816.1,1480.9 807.6,1481.1 799.2,1483 791,1484.6 782.4,1485.2 774.3,1485.2 766.1,1485.2 757.6,1485.2 749.4,1485.6 741.2,1484.2 732.4,1485.2 724.3,1485.6 716.1,1483.6 707.6,1482.6 699.2,1480.9 690.6,1482.6 682.4,1483 674.3,1482.2 666.1,1479.1 656.9,1480.5 648.8,1481.1 640.6,1481.1 632.4,1484.2 624.3,1486.2 616.1,1485.6 608,1485.2 599.8,1484.6 591.6,1485 582.4,1486.2 574.3,1486.7 566.1,1488.7 558,1488.7 549.8,1489.3 541.6,1489.1 533.5,1487.7 524.9,1486.2" fill="#8D84CF"/><polyline points="524.9,1465.2 533.5,1467.9 541.6,1468.3 549.8,1469.9 558,1466.2 566.1,1465.8 574.3,1464.2 582.4,1462.6 591.6,1463.8 599.8,1464.2 608,1463.8 616.1,1463.2 624.3,1463.2 632.4,1462.6 640.6,1459.1 648.8,1458.1 656.9,1456.7 666.1,1455 674.3,1458.1 682.4,1458.7 690.6,1456.7 699.2,1455.6 707.6,1456 716.1,1453 724.3,1450.9 732.4,1452 741.2,1452 749.4,1457.1 757.6,1455 766.1,1458.1 774.3,1463.8 782.4,1462.2 791,1460.7 799.2,1451.6 807.6,1445.8 816.1,1439.7 824.3,1433.6 832.4,1428.1 840.6,1427.5 848.8,1424 858,1425.8" fill="none" stroke="#000" stroke-width="1.85" stroke-linejoin="round"/><polyline points="524.9,1486.2 533.5,1487.7 541.6,1489.1 549.8,1489.3 558,1488.7 566.1,1488.7 574.3,1486.7 582.4,1486.2 591.6,1485 599.8,1484.6 608,1485.2 616.1,1485.6 624.3,1486.2 632.4,1484.2 640.6,1481.1 648.8,1481.1 656.9,1480.5 666.1,1479.1 674.3,1482.2 682.4,1483 690.6,1482.6 699.2,1480.9 707.6,1482.6 716.1,1483.6 724.3,1485.6 732.4,1485.2 741.2,1484.2 749.4,1485.6 757.6,1485.2 766.1,1485.2 774.3,1485.2 782.4,1485.2 791,1484.6 799.2,1483 807.6,1481.1 816.1,1480.9 824.3,1480.1 832.4,1479.5 840.6,1478.5 848.8,1479.1 858,1477.9" fill="none" stroke="#000" stroke-width="1.85" stroke-linejoin="round"/>
<polyline points="523.3,1475.4 533.5,1477.9 541.6,1479.1 549.8,1479.9 558,1477.5 566.1,1477.1 574.3,1475 582.4,1474 591.6,1474 599.8,1474 608,1474.4 616.1,1474.4 624.3,1474.4 632.4,1473.4 640.6,1470.3 648.8,1469.7 656.9,1468.7 666.1,1467.3 674.3,1470.3 682.4,1470.9 690.6,1469.7 699.2,1468.3 707.6,1469.3 716.1,1468.3 724.3,1468.3 732.4,1468.3 741.2,1467.9 749.4,1471.3 757.6,1469.9 766.1,1471.8 774.3,1475 782.4,1474.4 791,1473.4 799.2,1468.7 807.6,1464.8 816.1,1461.1 824.3,1457.7 832.4,1453.6 840.6,1453 848.8,1451.6 858,1452" fill="none" stroke="#3F49A9" stroke-width="4" stroke-linejoin="round" stroke-linecap="butt" />
<text transform="translate(558.6 52.7) scale(1 1.2)" font-size="15.5" font-weight="bold">P5</text>
</g>
<g id="panelB">
<clipPath id="clipB"><rect x="1015.3" y="119.4" width="623.7" height="469.5"/></clipPath>
<g clip-path="url(#clipB)">
<polyline points="1016.1,510.1 1020.7,515.5 1025.3,497.9 1027.6,490.2 1031.4,468 1034.4,481.8 1037.5,478.7 1040.1,465.7 1042.9,461.1 1045.9,467.2 1049,473.4 1052.8,476.4 1056.3,487.1 1059.7,482.6 1062.8,468 1067,492.5 1070.4,485.6 1075,496.3 1078.8,490.2 1083.4,478 1087.2,464.9 1091.1,463.4 1093.8,445.1 1097.2,455 1101.3,446.6 1104.8,447.3 1107.9,445.8 1111.7,468.8 1117.1,465.7 1120.9,475.7 1124,468 1130.1,468.5 1133.2,474.9 1137,463.4 1140.8,463.4 1145.4,464.9 1149.2,458.1 1153.1,451.9 1157.7,449.6 1162.2,456.5 1166.1,451.9 1169.9,463.4 1174.5,461.1 1178.3,457.3 1182.9,463.4 1186.7,453.5 1191.3,447.3 1195.2,445.8 1199,458.1 1202.8,465.7 1206.6,455.8 1211.2,455 1215.8,450.4 1219.6,448.9 1223.5,459.6 1228.1,468 1232.7,478.7 1237.2,470.3 1241.8,463.4 1246.4,465.7 1250.3,461.9 1254.8,459.6 1258.7,464.9 1262.5,476.4 1267.1,471.8 1271.7,465.7 1275.5,470.3 1279.3,478 1283.2,470.3 1286.2,467.2 1290.8,456.5 1295.4,455.8 1298.5,455 1302.3,460.4 1305.4,464.2 1307.3,477.2 1309.9,462.7 1312.2,425.9 1314.5,395.3 1316.1,380 1318,340 1320.3,299 1322.6,253.1 1324.8,219.4 1327.9,185.7 1331.4,168.1 1334,194.9 1336.3,222.4 1338.6,268.4 1340.9,314.3 1342.4,340 1343.6,380 1345.9,410.6 1348.2,430.5 1350.5,445.1 1353.6,451.9 1355.9,457.3 1358.2,448.1 1361.2,459.6 1364.3,453.5 1366.6,443.5 1369.6,438.9 1372.7,427.4 1376.5,438.2 1381.1,430.5 1383.4,423.6 1386.5,419.8 1388.8,403 1391.8,412.1 1394.9,416 1398,438.2 1400.3,451.2 1404.1,450.4 1408.7,438.2 1411.7,451.2 1416.3,474.9 1418.6,453.5 1422.4,449.6 1427,432 1430.1,450.4 1433.2,451.2 1435.5,463.4 1439.3,462.7 1442.3,463.4 1445.4,478 1449.2,491.7 1453.1,477.2 1459.2,485.6 1463,465.7 1466.1,458.1 1469.9,461.1 1473,473.4 1475.3,492.5 1478.3,494 1481.4,477.2 1485.2,481 1490.6,485.6 1495.2,481 1500.5,477.2 1503.6,484.1 1506.6,481 1511.2,476.4 1514.3,465.7 1517.3,461.1 1521.2,459.6 1524.2,471.8 1528.1,466.5 1531.1,474.1 1534.2,487.9 1540.3,487.1 1544.9,499.4 1548,507 1551.8,497.9 1554.8,503.2 1560.2,500.9 1565.6,500.9 1571.7,501.7 1577,487.1 1580.1,493.3 1583.9,510.1 1587.8,517.8 1590.4,527.7 1593.9,508.6 1596.2,503.2 1598.5,475.7 1600.8,487.1 1604.6,491.7 1606.9,475.7 1610.7,461.9 1614.5,449.6 1618.4,448.9 1621.4,459.6 1623.7,473.4 1626,484.1 1629.1,478 1631.4,468.8 1634.4,470.3 1637.5,478 1639.8,492.5" fill="none" stroke="#2F78BD" stroke-width="4.3" stroke-linejoin="round" stroke-linecap="butt" />
<polyline points="1028.3,459.6 1034.4,458.1 1040.1,448.9 1044.4,450.4 1050.5,450.7 1053.6,459.6 1056.6,468 1061.2,473.4 1065.8,480.3 1068.9,485.6 1073.5,489.4 1078.1,484.1 1083.4,488.7 1087.2,485.6 1091.8,478 1095.7,480.3 1099.8,489.4 1104.1,482.6 1107.9,471.1 1112.5,467.2 1117.1,462.7 1121.7,447.3 1126.3,448.9 1130.1,452.7 1134.7,457.3 1139.3,453.5 1143.1,447.3 1148.5,429.7 1150.8,435.1 1153.8,449.6 1160.7,450.4 1165.3,452.7 1169.9,455.8 1173,461.9 1176.8,465.7 1181.4,462.7 1185.2,470.3 1189.8,471.1 1194.4,467.2 1199,463.4 1203.6,474.9 1208.2,471.8 1212,466.5 1216.6,478 1219.6,482.6 1225,480.3 1230.4,492.5 1235.7,481.8 1241.1,473.4 1246.4,484.1 1251,481 1257.9,487.9 1263.3,485.6 1267.1,478 1270.9,468 1274.7,463.4 1280.1,451.9 1284.7,451.9 1290.1,455.8 1295.4,442.8 1298.5,413.7 1301.5,390.7 1304.6,383.8 1306.9,380 1310.3,340 1312.6,314.3 1314.9,299 1318,283.7 1321,273 1324.8,259.2 1328.7,247.7 1331.7,257.7 1334.8,259.9 1339.4,260.7 1342.4,263 1345.5,265.3 1347.8,283.7 1350.1,302 1353.2,321.9 1355.5,340 1366.6,380 1370.4,398.4 1375,419.8 1378.1,432 1383.4,444.3 1388.8,448.9 1391.8,438.2 1395.7,428.2 1399.5,426.7 1403.3,432 1407.1,439.7 1411,453.5 1416.3,463.4 1422.4,476.4 1426.3,484.8 1432.4,478 1437.8,486.4 1442.3,494.8 1448.5,509.3 1453.1,500.9 1457.7,507 1462.2,514.7 1466.1,515.5 1470.7,512.4 1476,515.5 1480.6,523.9 1486.7,533.1 1492.6,540.7 1497.4,537.7 1502,528.5 1506.6,517.8 1510.5,511.6 1515.8,508.6 1520.4,508.6 1525,499.4 1531.1,500.2 1536.5,501.7 1541.8,513.2 1548,513.2 1554.1,510.1 1558.7,510.1 1563.3,507.8 1567.9,511.6 1574,520.1 1580.1,517.8 1586.2,510.1 1591.6,500.9 1596.2,487.1 1600,483.3 1606.1,481.8 1611.5,480.3 1616.1,474.9 1619.9,465.7 1623,450.4" fill="none" stroke="#DC5012" stroke-width="4.3" stroke-linejoin="round" stroke-linecap="butt" />
<polyline points="1057.7,457.3 1059.3,457.9 1060.6,460.7 1063.5,467.8 1066.6,473.3 1069.8,476.4 1072.9,478.2 1076,477.3 1079,475.8 1081.9,474.6 1084.8,472.1 1088,473.6 1091.6,475 1095.2,475.6 1099.1,476.1 1102.9,478.7 1106.6,480.5 1110.2,480.7 1113.6,479.2 1116.8,477.8 1120,478.1 1123.4,475.6 1126.6,474.7 1130.1,473.9 1133.8,471.6 1137.3,465.7 1141,460.8 1144.8,457.7 1148.5,458.2 1152.2,462 1156,465.7 1159.3,467.5 1162.6,468.3 1165.9,465.1 1169.3,460.8 1172.8,459.9 1176.8,463.5 1180.9,467.4 1184.9,471.2 1188.7,475.8 1192.3,481.1 1195.7,483.9 1198.9,486 1202.4,487 1206.3,484.8 1210,478.9 1213.7,473 1217.7,467.8 1221.6,465.2 1225.6,464 1229.6,466.1 1233.7,468.3 1237.7,470.4 1241.2,470.6 1244.6,471.8 1248.1,470.6 1251.7,466.9 1255.2,462.3 1258.9,457.7 1262.2,449.1 1265.4,437.8 1268.3,425.9 1270.9,412.1 1273.7,392.2 1276.7,372.6 1279.9,355.5 1283,339.9 1286,324 1288.6,315.3 1291.3,309.8 1293.9,305.7 1296.4,299.9 1299.3,298 1302.4,295.3 1305.3,293.1 1308.3,291.7 1311.9,295.6 1315.4,296.2 1318.9,298.6 1322.4,297.4 1325.8,293.1 1329,283.5 1332.1,270.6 1335,252.7 1337.9,236.3 1340.9,218.9 1343.7,202.1 1346.5,189.8 1349.4,177.9 1352.6,163.6 1355.6,152.8 1359.2,146.3 1362.6,136.8 1366,134.1 1369,138.1 1372.1,149.5 1375,162.1 1378,183.8 1381,206.8 1384,229.3 1386.7,244.3 1389.4,261.1 1392.2,275.2 1394.8,289.6 1397.3,303.5 1399.9,322.5 1402.9,338.7 1406,354.2 1409.6,363.4 1413.7,369.6 1418,370.3 1422.1,372.6 1426,376.1 1429.9,386.2 1433.3,395.4 1436.6,409.5 1439.8,424.8 1442.7,437.7 1445.6,452 1449,472.1 1452.6,492.9 1456.3,512.8 1460.1,534.9 1464,550.9 1467.8,562.6 1471.3,571.1 1475,577.9 1478.8,580 1482.6,583.1 1486.3,585.1 1489.8,585.2 1493.2,579.6 1496.7,574.1 1500.1,567.5 1503.4,559.8 1507,552 1510.5,546 1513.9,541.4 1517.5,535.9 1521,532.1 1524.4,530 1527.8,528.7 1531.4,527.4 1535.1,527.1 1538.8,523.5 1542.9,518.2 1547.4,513.6 1551.8,508.1 1556.1,501.5 1560.7,498 1565.1,494.9 1569.7,496.5 1573.8,498.4 1578.1,500.1 1582.1,500 1586,499.3 1589.3,494.4 1591.1,491.3 1592.7,489.1" fill="none" stroke="#F0B310" stroke-width="4.3" stroke-linejoin="round" stroke-linecap="butt" />
<polyline points="1059.7,482.6 1064.3,478 1068.9,473.4 1073.5,478 1078.1,484.1 1082.7,478 1086.5,481 1091.8,487.1 1095.7,479.5 1101,478 1107.9,487.9 1111.7,474.9 1116.3,467.2 1120.9,461.1 1125.5,463.4 1130.1,462.7 1134.7,448.1 1138.5,456.5 1143.9,451.9 1149.2,451.9 1153.1,453.5 1157.7,455 1160.7,465.7 1164.5,450.4 1168.4,451.9 1174.5,453.5 1179.1,453.5 1183.7,459.6 1188.3,470.3 1192.9,467.2 1197.4,468.8 1203.6,474.1 1208.2,467.2 1212,451.9 1214.3,448.9 1217.3,453.5 1221.2,465.7 1225.8,470.3 1229.6,471.8 1234.2,474.9 1238.8,478 1244.1,484.1 1249.5,481 1257.1,478 1263.3,478 1267.1,473.4 1270.2,447.3 1274,441.2 1277,433.6 1279.3,410.6 1284.8,384.7 1289.8,358.2 1294.7,338.3 1299.7,333.3 1304.7,344.9 1313,348.2 1318,364.8 1322.9,369.8 1327.9,363.1 1334.5,344.9 1339.5,328.3 1342.8,308.4 1347.8,301.8 1354.4,303.4 1361.1,301.8 1366,288.5 1369.4,282.5 1374.3,293.5 1381,308.4 1387.6,325 1394.2,341.6 1400.5,362 1405.6,380 1410.2,387.7 1413.3,386.9 1416.3,393.8 1420.9,396.1 1427,395.3 1430.1,399.9 1433.9,410.6 1437.8,419.8 1443.9,422.9 1446.2,436.6 1450,444.3 1454.6,456.5 1457.7,468.8 1462.2,474.9 1467.6,476.4 1471.4,487.1 1476,489.4 1479.8,476.4 1483.7,490.2 1487.5,502.4 1491.3,514.7 1494.4,505.5 1498.2,510.1 1502,494.8 1504.3,485.6 1508.2,488.7 1512,493.3 1515.8,497.9 1519.6,494.8 1523.5,496.3 1528.1,508.6 1531.1,513.2 1534.9,511.6 1539.5,513.2 1543.4,526.9 1546.4,533.1 1549.5,539.9 1553.3,533.1 1557.1,525.4 1560.2,536.1 1563.3,543.8 1566.3,546.8 1569.4,542.2 1573.2,545.3 1577,556 1580.9,557.6 1584.7,570.6 1590.1,572.1 1593.9,566.7 1598.5,562.1" fill="none" stroke="#8A1FB0" stroke-width="4.3" stroke-linejoin="round" stroke-linecap="butt" />
<polyline points="1055.9,481 1064.3,475.7 1068.9,474.1 1075.8,485.6 1082.7,483.3 1091.8,480.3 1100.3,478.7 1110.2,478.7 1116.3,463.4 1121.7,456.5 1130.1,459.6 1138.5,455.8 1146.9,452.7 1156.1,454.2 1165.3,451.2 1173,452.7 1180.6,459.6 1188.3,470.3 1192.1,464.9 1199,461.1 1208.2,460.4 1215.8,463.4 1223.5,470.3 1232.7,475.7 1241.8,480.3 1251,476.4 1260.2,471.8 1266.3,464.2 1272.4,453.5 1276.3,441.2 1279.3,422.9 1282.4,403 1284.8,381.4 1289.8,359.8 1294.7,339.9 1306.4,346.5 1319.6,360.8 1329.6,356.5 1339.5,341.6 1349.5,311.7 1361.1,306.8 1372.7,298.5 1384.3,318.4 1394.2,348.2 1402.6,380 1404.8,389.2 1410.2,394.5 1416.3,399.9 1427,399.9 1431.6,410.6 1437,429 1442.3,436.6 1447.7,444.3 1453.1,455 1457.7,467.2 1462.2,474.9 1469.9,489.4 1482.1,479.5 1492.6,517.8 1503.6,488.7 1514.3,503.2 1525,500.9 1537.2,510.1 1546.4,531.5 1558.7,522.3 1567.9,539.2 1578.6,549.9 1589.3,568.3" fill="none" stroke="#7BB41A" stroke-width="4.3" stroke-linejoin="round" stroke-linecap="butt" />
<polyline points="1055.9,445.1 1058.9,458.1 1062,464.2 1065.1,458.1 1067.3,470.3 1070.4,481 1074.2,485.6 1078.1,479.5 1080.4,467.2 1082.7,465.7 1085.7,473.4 1088.8,479.5 1092.6,467.2 1096.4,474.9 1100.3,472.6 1104.1,476.4 1107.9,481.8 1111.7,480.3 1114.8,484.1 1118.6,473.4 1120.9,468.8 1124,474.9 1127.8,481.8 1131.6,471.8 1134.7,468.8 1138.5,464.9 1142.3,463.4 1145.4,451.9 1150,447.3 1153.8,453.5 1156.9,467.2 1160.7,482.6 1164.5,470.3 1166.8,456.5 1169.9,457.3 1173.7,451.2 1177.6,461.1 1182.1,465.7 1186.7,474.9 1190.6,476.4 1193.6,470.3 1196.7,484.1 1200.1,492.5 1203.6,488.7 1206.6,487.1 1211.2,474.9 1215.8,473.4 1218.9,462.7 1221.9,459.6 1226.5,461.1 1231.1,461.9 1235.7,467.2 1238.8,473.4 1242.6,470.3 1246.4,471.8 1248.7,462.7 1252.6,473.4 1256.4,467.2 1260.2,451.9 1264,448.9 1267.1,439.7 1269.4,430.5 1272.4,410.6 1274.7,392.2 1277,380 1281.2,340 1284.3,332.7 1288.1,325 1290.4,314.3 1291.9,300.5 1294.2,296.7 1298.1,305.1 1301.1,304.3 1302.7,285.2 1306.5,291.3 1309.5,282.9 1312.6,294.4 1316.4,297.4 1320.3,304.3 1324.1,294.4 1327.1,295.2 1330.2,288.3 1333.3,276 1336.3,256.1 1339.4,230.1 1341.7,205.6 1344.7,206.4 1348.6,188.8 1350.1,171.9 1353.2,168.9 1356.2,145.9 1360.8,135.2 1363.9,134.4 1367.7,139.8 1370.3,121.4 1373.1,132.1 1376.1,155.1 1379.2,191.8 1382.2,202.6 1385.3,230.1 1388.4,246.9 1390.7,267.6 1392.7,266.8 1396,286.7 1399.1,300.5 1401.4,318.9 1403.4,337.2 1405.8,361.5 1410.8,368.1 1414.8,378 1419.1,364.8 1424.1,368.1 1427.4,364.8 1430.9,380 1434.7,395.3 1438.5,415.2 1440.8,414.4 1443.9,435.1 1446.9,456.5 1449.2,459.6 1453.1,487.1 1457.7,514.7 1462.2,539.2 1465.3,556 1468.4,569.8 1472.2,567.5 1476.8,572.9 1479.8,582 1483.7,589.7 1487.5,580.5 1491.3,582.8 1495.2,582.8 1497.4,582.8 1500.5,561.4 1505.1,553 1508.2,549.9 1512,544.5 1515.1,543.8 1518.1,531.5 1521.9,530 1526.5,522.3 1529.6,525.4 1531.9,533.1 1534.9,525.4 1540.3,523.1 1544.9,520.8 1548,507.8 1552.6,506.3 1557.1,502.4 1562.5,495.6 1566.3,487.9 1570.9,490.2 1574.7,491 1580.1,510.1 1583.2,505.5 1587.8,496.3 1590.8,489.4 1593.9,487.9 1596.9,485.6" fill="none" stroke="#77C1E4" stroke-width="4.3" stroke-linejoin="round" stroke-linecap="butt" />
</g>
<rect x="1015.3" y="121.4" width="623.7" height="467.5" fill="none" stroke="#000" stroke-width="4.3"/>
<g stroke="#000" stroke-width="3.8">
<path d="M1137.8,588.9 v-8"/><path d="M1137.8,121.4 v8"/>
<path d="M1274.2,588.9 v-8"/><path d="M1274.2,121.4 v8"/>
<path d="M1410.4,588.9 v-8"/><path d="M1410.4,121.4 v8"/>
<path d="M1546.5,588.9 v-8"/><path d="M1546.5,121.4 v8"/>
<path d="M1015.3,150.2 h8.5"/><path d="M1639.0,150.2 h-8.5"/>
<path d="M1015.3,213.9 h8.5"/><path d="M1639.0,213.9 h-8.5"/>
<path d="M1015.3,277.2 h8.5"/><path d="M1639.0,277.2 h-8.5"/>
<path d="M1015.3,340.9 h8.5"/><path d="M1639.0,340.9 h-8.5"/>
<path d="M1015.3,404.7 h8.5"/><path d="M1639.0,404.7 h-8.5"/>
<path d="M1015.3,468.7 h8.5"/><path d="M1639.0,468.7 h-8.5"/>
<path d="M1015.3,532.6 h8.5"/><path d="M1639.0,532.6 h-8.5"/>
</g>
<text x="1004.8" y="161.1" font-size="28" text-anchor="end">5</text>
<text x="1004.8" y="224.8" font-size="28" text-anchor="end">4</text>
<text x="1004.8" y="288.1" font-size="28" text-anchor="end">3</text>
<text x="1004.8" y="351.8" font-size="28" text-anchor="end">2</text>
<text x="1004.8" y="415.6" font-size="28" text-anchor="end">1</text>
<text x="1004.8" y="479.6" font-size="28" text-anchor="end">0</text>
<text x="1004.8" y="543.5" font-size="28" text-anchor="end">-1</text>
<text x="1136.5" y="628" font-size="28" text-anchor="middle">-0.5</text>
<text x="1274.2" y="628" font-size="28" text-anchor="middle">0</text>
<text x="1410.4" y="628" font-size="28" text-anchor="middle">0.5</text>
<text x="1546.5" y="628" font-size="28" text-anchor="middle">1</text>
<text x="1327.5" y="666.9" font-size="31" text-anchor="middle">t (s)</text>
<text transform="translate(963.5 356.5) rotate(-90)" font-size="32.5" text-anchor="middle">Z-UC GC</text>
<text x="1327.9" y="109.6" font-size="32.5" text-anchor="middle" font-weight="bold">Gender VLIn towards VL</text>
<text transform="translate(940.02 48.8) scale(0.846 1.047)" font-size="44" fill="#000">B</text>
<path d="M1026.8,146.9 H1080.2" stroke="#2F78BD" stroke-width="4.3" fill="none"/>
<text x="1086.5" y="155.5" font-size="25.8">NS1;WL100;Off10</text>
<path d="M1026.8,179.4 H1080.2" stroke="#DC5012" stroke-width="4.3" fill="none"/>
<text x="1086.5" y="188" font-size="25.8">NS2;WL200;Off20</text>
<path d="M1026.8,211.9 H1080.2" stroke="#F0B310" stroke-width="4.3" fill="none"/>
<text x="1086.5" y="220.5" font-size="25.8">NS4;WL400;Off40</text>
<path d="M1026.8,244.4 H1080.2" stroke="#8A1FB0" stroke-width="4.3" fill="none"/>
<text x="1086.5" y="253" font-size="25.8">NS1;WL400;Off10</text>
<path d="M1026.8,276.9 H1080.2" stroke="#7BB41A" stroke-width="4.3" fill="none"/>
<text x="1086.5" y="285.5" font-size="25.8">NS1;WL400;Off40</text>
<path d="M1026.8,309.4 H1080.2" stroke="#77C1E4" stroke-width="4.3" fill="none"/>
<text x="1086.5" y="318" font-size="25.8">NS4;WL400;Off8</text>
</g>
<g id="panelC">
<rect x="1020.5" y="904.1" width="597.8" height="530.1999999999999" fill="#4F309C"/>
<path d="M1278.6,1040.9 C1283.3,1041.2 1290.5,1042.1 1296.4,1043.5 C1302.4,1044.9 1308.3,1047.8 1314.3,1049.3 C1320.2,1050.8 1325.3,1052.4 1332.1,1052.7 C1338.9,1053.0 1347.4,1051.2 1355.1,1051.1 C1362.8,1051.0 1371.7,1051.4 1378.1,1051.9 C1384.5,1052.5 1388.7,1052.9 1393.4,1054.4 C1398.1,1055.9 1402.8,1057.8 1406.1,1060.8 C1409.4,1063.8 1412.4,1068.5 1413.3,1072.3 C1414.2,1076.1 1412.9,1080.2 1411.7,1083.8 C1410.5,1087.4 1407.4,1090.8 1406.1,1094 C1404.8,1097.2 1403.9,1099.7 1404.1,1102.9 C1404.3,1106.1 1405.6,1109.5 1407.4,1113.1 C1409.2,1116.7 1412.3,1121.6 1415.1,1124.6 C1417.9,1127.6 1420.4,1129.5 1424,1131 C1427.6,1132.5 1432.0,1133.5 1436.7,1133.5 C1441.4,1133.5 1446.9,1131.7 1452,1131 C1457.1,1130.3 1462.2,1129.0 1467.3,1129.2 C1472.4,1129.4 1478.2,1130.4 1482.7,1132.2 C1487.2,1134.0 1490.7,1136.5 1494.1,1139.9 C1497.5,1143.3 1500.5,1148.0 1503.1,1152.7 C1505.6,1157.4 1507.8,1162.5 1509.4,1168 C1511.0,1173.5 1511.3,1179.4 1512.8,1185.8 C1514.3,1192.2 1515.8,1200.2 1518.4,1206.2 C1521.0,1212.2 1525.4,1216.6 1528.6,1221.5 C1531.8,1226.4 1535.9,1231.8 1537.5,1235.6 C1539.1,1239.4 1539.4,1241.3 1538.3,1244.5 C1537.2,1247.7 1534.4,1252.2 1531.1,1254.7 C1527.8,1257.2 1523.1,1258.3 1518.4,1259.8 C1513.7,1261.3 1508.2,1261.9 1503.1,1263.6 C1498.0,1265.3 1492.9,1267.7 1487.8,1270 C1482.7,1272.3 1476.7,1274.7 1472.4,1277.7 C1468.1,1280.7 1465.2,1284.7 1462.2,1287.9 C1459.2,1291.1 1458.0,1294.2 1454.6,1296.8 C1451.2,1299.3 1445.8,1301.1 1441.8,1303.2 C1437.8,1305.3 1433.2,1306.8 1430.4,1309.5 C1427.7,1312.2 1426.5,1315.9 1425.3,1319.7 C1424.1,1323.5 1425.0,1329.3 1423.5,1332.5 C1422.0,1335.7 1418.8,1338.3 1416.3,1338.9 C1413.8,1339.5 1411.7,1338.2 1408.7,1336.3 C1405.7,1334.4 1402.8,1329.9 1398.5,1327.4 C1394.2,1324.9 1388.3,1323.2 1383.2,1321.5 C1378.1,1319.8 1372.6,1318.1 1367.9,1317.2 C1363.2,1316.3 1359.4,1315.7 1355.1,1315.9 C1350.8,1316.1 1345.9,1316.8 1342.3,1318.5 C1338.7,1320.2 1336.4,1322.7 1333.4,1326.1 C1330.4,1329.5 1327.7,1335.1 1324.5,1338.9 C1321.3,1342.7 1318.1,1346.1 1314.3,1349.1 C1310.5,1352.1 1305.8,1353.9 1301.5,1356.7 C1297.2,1359.5 1292.2,1362.3 1288.8,1365.7 C1285.4,1369.1 1283.6,1373.1 1281.1,1377.1 C1278.5,1381.1 1276.5,1386.5 1273.5,1389.9 C1270.5,1393.3 1266.7,1396.4 1263.3,1397.6 C1259.9,1398.8 1256.0,1398.3 1253.1,1397 C1250.2,1395.7 1247.8,1393.2 1245.9,1389.9 C1244.0,1386.6 1242.8,1381.3 1241.6,1377.1 C1240.4,1372.8 1240.5,1368.2 1239,1364.4 C1237.5,1360.6 1235.5,1357.0 1232.7,1354.2 C1229.9,1351.4 1226.7,1349.7 1222.4,1347.8 C1218.1,1345.9 1211.3,1344.4 1207.1,1342.7 C1202.8,1341.0 1200.3,1339.9 1196.9,1337.6 C1193.5,1335.3 1190.1,1331.5 1186.7,1328.7 C1183.3,1325.9 1179.7,1324.0 1176.5,1321 C1173.3,1318.0 1170.1,1315.0 1167.6,1310.8 C1165.0,1306.5 1163.8,1301.0 1161.2,1295.5 C1158.7,1290.0 1154.4,1283.7 1152.3,1277.7 C1150.2,1271.8 1148.7,1265.8 1148.5,1259.8 C1148.3,1253.8 1150.0,1248.3 1151,1241.9 C1152.0,1235.5 1153.5,1229.2 1154.8,1221.5 C1156.1,1213.8 1157.4,1203.7 1158.7,1196 C1160.0,1188.3 1160.6,1182.4 1162.5,1175.6 C1164.4,1168.8 1167.4,1161.6 1170.2,1155.2 C1173.0,1148.8 1175.5,1142.6 1179.1,1137.3 C1182.7,1132.0 1187.5,1127.3 1191.8,1123.3 C1196.0,1119.3 1201.0,1116.7 1204.6,1113.1 C1208.2,1109.5 1211.0,1106.3 1213.5,1101.6 C1216.0,1096.9 1217.1,1090.6 1219.9,1085.1 C1222.7,1079.6 1226.3,1073.6 1230.1,1068.5 C1233.9,1063.4 1238.2,1058.3 1242.9,1054.4 C1247.6,1050.5 1254.0,1047.1 1258.2,1045 C1262.5,1042.9 1265.0,1042.4 1268.4,1041.7 C1271.8,1041.0 1273.9,1040.6 1278.6,1040.9Z" fill="#5C5DB4" stroke="#111" stroke-width="1.9"/>
<path d="M1270.9,1063.9 C1274.3,1064.1 1279.0,1064.3 1283.7,1065.9 C1288.4,1067.5 1293.9,1070.8 1299,1073.6 C1304.1,1076.4 1308.3,1079.5 1314.3,1082.5 C1320.2,1085.5 1327.9,1088.9 1334.7,1091.9 C1341.5,1094.9 1348.7,1097.9 1355.1,1100.4 C1361.5,1103.0 1367.9,1104.0 1373,1107.2 C1378.1,1110.4 1381.7,1115.3 1385.7,1119.5 C1389.7,1123.7 1393.6,1128.2 1397.2,1132.2 C1400.8,1136.2 1403.4,1140.7 1407.4,1143.7 C1411.4,1146.7 1415.7,1148.3 1421.4,1150.1 C1427.1,1151.9 1435.8,1152.8 1441.8,1154.7 C1447.8,1156.6 1452.4,1158.8 1457.1,1161.6 C1461.8,1164.4 1466.3,1168.4 1469.9,1171.8 C1473.5,1175.2 1476.8,1178.4 1478.8,1182 C1480.8,1185.6 1481.9,1189.7 1482.1,1193.5 C1482.3,1197.3 1482.1,1201.5 1480.1,1204.9 C1478.1,1208.3 1472.9,1211.1 1469.9,1213.9 C1466.9,1216.7 1463.9,1218.1 1462.2,1221.5 C1460.5,1224.9 1460.8,1230.0 1459.7,1234.3 C1458.7,1238.5 1458.5,1243.2 1455.9,1247 C1453.4,1250.8 1448.9,1254.2 1444.4,1257.2 C1439.9,1260.2 1435.0,1262.8 1429.1,1264.9 C1423.1,1267.0 1415.1,1268.3 1408.7,1270 C1402.3,1271.7 1396.3,1273.2 1390.8,1275.1 C1385.3,1277.0 1380.6,1279.4 1375.5,1281.5 C1370.4,1283.6 1365.7,1285.8 1360.2,1287.9 C1354.7,1290.0 1347.8,1292.3 1342.3,1294.2 C1336.8,1296.1 1331.0,1297.0 1327,1299.3 C1323.0,1301.6 1320.4,1304.2 1318.1,1308.3 C1315.8,1312.3 1314.9,1318.9 1313,1323.6 C1311.1,1328.3 1309.8,1332.0 1306.6,1336.3 C1303.4,1340.5 1298.6,1345.5 1293.9,1349.1 C1289.2,1352.7 1283.7,1356.2 1278.6,1358 C1273.5,1359.8 1268.0,1360.3 1263.3,1359.8 C1258.6,1359.2 1254.8,1357.1 1250.5,1354.7 C1246.2,1352.3 1242.0,1348.8 1237.8,1345.3 C1233.5,1341.8 1229.3,1338.1 1225,1333.8 C1220.7,1329.5 1216.9,1324.4 1212.2,1319.7 C1207.5,1315.0 1202.4,1309.7 1196.9,1305.7 C1191.4,1301.7 1184.0,1299.3 1179.1,1295.5 C1174.2,1291.7 1170.6,1287.9 1167.6,1282.8 C1164.6,1277.7 1162.3,1270.4 1161.2,1264.9 C1160.1,1259.4 1160.3,1255.1 1160.7,1249.6 C1161.1,1244.1 1162.7,1238.1 1163.8,1231.7 C1164.9,1225.3 1166.1,1218.5 1167.6,1211.3 C1169.1,1204.1 1170.8,1195.6 1172.7,1188.4 C1174.6,1181.2 1176.5,1174.4 1179.1,1168 C1181.6,1161.6 1184.8,1155.4 1188,1150.1 C1191.2,1144.8 1194.2,1140.1 1198.2,1136.1 C1202.2,1132.1 1207.7,1129.5 1212.2,1125.9 C1216.7,1122.3 1221.6,1118.9 1225,1114.4 C1228.4,1109.9 1229.9,1104.6 1232.7,1099.1 C1235.5,1093.6 1238.2,1086.1 1241.6,1081.2 C1245.0,1076.3 1249.5,1072.5 1253.1,1069.7 C1256.7,1066.9 1260.3,1065.6 1263.3,1064.6 C1266.3,1063.6 1267.5,1063.7 1270.9,1063.9Z" fill="#5B84C8" stroke="#111" stroke-width="1.9"/>
<path d="M1270.9,1078.2 C1273.9,1078.4 1277.3,1078.5 1281.1,1079.9 C1284.9,1081.3 1289.7,1084.0 1293.9,1086.8 C1298.2,1089.6 1301.9,1093.0 1306.6,1096.5 C1311.3,1100.0 1316.4,1104.8 1321.9,1108 C1327.4,1111.2 1333.8,1113.8 1339.8,1115.7 C1345.8,1117.6 1352.2,1118.2 1357.7,1119.5 C1363.2,1120.8 1368.3,1121.2 1373,1123.3 C1377.7,1125.4 1381.5,1128.6 1385.7,1132.2 C1390.0,1135.8 1394.5,1141.0 1398.5,1145 C1402.5,1149.0 1405.7,1153.3 1409.9,1156.5 C1414.2,1159.7 1419.5,1161.5 1424,1164.1 C1428.5,1166.6 1433.5,1168.8 1436.7,1171.8 C1439.9,1174.8 1442.0,1178.6 1443.1,1182 C1444.2,1185.4 1444.2,1188.2 1443.1,1192.2 C1442.0,1196.2 1438.5,1201.7 1436.7,1206.2 C1434.9,1210.7 1433.1,1214.3 1432.1,1219 C1431.0,1223.7 1431.5,1229.8 1430.4,1234.3 C1429.3,1238.8 1428.1,1242.4 1425.3,1245.8 C1422.5,1249.2 1418.7,1252.2 1413.8,1254.7 C1408.9,1257.2 1401.9,1259.1 1395.9,1261.1 C1390.0,1263.1 1383.6,1264.8 1378.1,1266.9 C1372.6,1269.0 1368.3,1272.0 1362.8,1273.8 C1357.3,1275.6 1350.4,1276.2 1344.9,1277.7 C1339.4,1279.2 1334.3,1280.5 1329.6,1282.8 C1324.9,1285.1 1320.2,1288.1 1316.8,1291.7 C1313.4,1295.3 1311.3,1299.9 1309.2,1304.4 C1307.1,1308.9 1306.2,1313.6 1304.1,1318.5 C1302.0,1323.4 1299.8,1329.6 1296.4,1333.8 C1293.0,1338.0 1288.0,1341.3 1283.7,1343.5 C1279.5,1345.7 1275.2,1346.8 1270.9,1347 C1266.7,1347.2 1262.5,1346.3 1258.2,1344.5 C1254.0,1342.7 1249.7,1339.8 1245.4,1336.3 C1241.2,1332.8 1237.0,1328.3 1232.7,1323.6 C1228.5,1318.9 1225.0,1313.0 1219.9,1308.3 C1214.8,1303.6 1208.0,1299.5 1202,1295.5 C1196.0,1291.5 1188.9,1288.0 1184.2,1284 C1179.5,1280.0 1176.5,1276.2 1174,1271.3 C1171.5,1266.4 1169.5,1260.5 1168.9,1254.7 C1168.3,1249.0 1169.4,1243.2 1170.2,1236.8 C1171.0,1230.4 1172.5,1223.2 1174,1216.4 C1175.5,1209.6 1177.2,1202.8 1179.1,1196 C1181.0,1189.2 1183.0,1182.0 1185.5,1175.6 C1188.0,1169.2 1191.2,1163.3 1194.4,1157.8 C1197.6,1152.3 1200.8,1146.9 1204.6,1142.4 C1208.4,1137.9 1213.3,1134.6 1217.3,1131 C1221.3,1127.4 1225.6,1124.8 1228.8,1120.8 C1232.0,1116.8 1233.7,1111.6 1236.5,1106.7 C1239.3,1101.8 1242.2,1095.4 1245.4,1091.4 C1248.6,1087.4 1252.6,1084.6 1255.6,1082.5 C1258.6,1080.4 1260.8,1079.4 1263.3,1078.7 C1265.8,1078.0 1267.9,1078.0 1270.9,1078.2Z" fill="#4DB3D6" stroke="#111" stroke-width="1.9"/>
<path d="M1270.9,1088.9 C1274.1,1089.1 1277.5,1089.7 1281.1,1091.4 C1284.7,1093.1 1288.8,1096.1 1292.6,1099.1 C1296.4,1102.1 1300.1,1105.5 1304.1,1109.3 C1308.1,1113.1 1312.5,1118.6 1316.8,1122 C1321.0,1125.4 1325.3,1128.2 1329.6,1129.7 C1333.8,1131.2 1337.6,1131.0 1342.3,1131 C1347.0,1131.0 1353.0,1129.3 1357.7,1129.7 C1362.4,1130.1 1366.2,1131.2 1370.4,1133.5 C1374.7,1135.8 1379.0,1139.7 1383.2,1143.7 C1387.5,1147.8 1391.7,1153.5 1395.9,1157.8 C1400.2,1162.0 1404.7,1165.6 1408.7,1169.2 C1412.8,1172.8 1417.6,1176.0 1420.2,1179.4 C1422.8,1182.8 1424.1,1186.0 1424.5,1189.6 C1424.9,1193.2 1423.9,1196.6 1422.7,1201.1 C1421.5,1205.6 1418.9,1211.3 1417.6,1216.4 C1416.3,1221.5 1416.4,1227.0 1415.1,1231.7 C1413.8,1236.4 1412.7,1240.9 1409.9,1244.5 C1407.1,1248.1 1403.4,1250.6 1398.5,1253.4 C1393.6,1256.2 1386.1,1259.0 1380.6,1261.1 C1375.1,1263.2 1370.4,1264.8 1365.3,1266.2 C1360.2,1267.6 1355.1,1268.4 1350,1269.5 C1344.9,1270.6 1339.4,1271.2 1334.7,1272.6 C1330.0,1274.0 1326.2,1275.2 1321.9,1277.7 C1317.7,1280.2 1312.6,1284.1 1309.2,1287.9 C1305.8,1291.7 1303.6,1295.9 1301.5,1300.6 C1299.4,1305.3 1298.5,1311.0 1296.4,1315.9 C1294.3,1320.8 1291.8,1326.4 1288.8,1329.9 C1285.8,1333.4 1282.0,1335.5 1278.6,1336.8 C1275.2,1338.1 1272.2,1338.1 1268.4,1337.6 C1264.6,1337.1 1259.8,1336.1 1255.6,1333.8 C1251.3,1331.5 1247.2,1327.8 1242.9,1323.6 C1238.7,1319.3 1234.8,1313.4 1230.1,1308.3 C1225.4,1303.2 1220.3,1297.7 1214.8,1293 C1209.3,1288.3 1202.2,1284.2 1196.9,1280.2 C1191.6,1276.2 1186.3,1273.0 1182.9,1268.7 C1179.5,1264.5 1177.6,1259.6 1176.5,1254.7 C1175.4,1249.8 1176.0,1244.9 1176.5,1239.4 C1177.0,1233.9 1178.1,1227.9 1179.6,1221.5 C1181.1,1215.1 1183.2,1207.9 1185.5,1201.1 C1187.8,1194.3 1190.3,1187.1 1193.1,1180.7 C1195.8,1174.3 1198.8,1168.4 1202,1162.9 C1205.2,1157.4 1208.6,1152.4 1212.2,1147.6 C1215.8,1142.8 1219.9,1138.6 1223.7,1134.3 C1227.5,1130.0 1231.8,1126.6 1235.2,1122 C1238.6,1117.4 1241.1,1111.2 1244.1,1106.7 C1247.1,1102.2 1250.1,1098.0 1253.1,1095.3 C1256.1,1092.5 1259.0,1091.3 1262,1090.2 C1265.0,1089.1 1267.7,1088.7 1270.9,1088.9Z" fill="#72D9AF" stroke="#111" stroke-width="1.9"/>
<path d="M1270.9,1101.1 C1274.1,1101.4 1277.7,1102.2 1281.1,1104.2 C1284.5,1106.2 1287.9,1109.7 1291.3,1113.1 C1294.7,1116.5 1297.7,1120.8 1301.5,1124.6 C1305.3,1128.4 1310.0,1133.1 1314.3,1136.1 C1318.5,1139.1 1322.3,1141.2 1327,1142.4 C1331.7,1143.6 1337.2,1143.4 1342.3,1143.2 C1347.4,1143.0 1353.4,1140.9 1357.7,1141.2 C1362.0,1141.5 1364.3,1142.9 1367.9,1145 C1371.5,1147.1 1375.5,1150.3 1379.3,1153.9 C1383.1,1157.5 1387.0,1162.5 1390.8,1166.7 C1394.6,1171.0 1399.2,1175.4 1402.3,1179.4 C1405.4,1183.4 1408.0,1187.3 1409.2,1190.9 C1410.4,1194.5 1409.7,1197.3 1409.2,1201.1 C1408.7,1204.9 1407.0,1209.2 1406.1,1213.9 C1405.2,1218.6 1405.1,1224.5 1403.6,1229.2 C1402.1,1233.9 1400.2,1238.3 1397.2,1241.9 C1394.2,1245.5 1390.2,1248.1 1385.7,1250.9 C1381.2,1253.7 1375.5,1256.4 1370.4,1258.5 C1365.3,1260.6 1360.2,1262.5 1355.1,1263.6 C1350.0,1264.7 1344.5,1264.5 1339.8,1264.9 C1335.1,1265.3 1331.2,1264.5 1327,1266.2 C1322.8,1267.9 1318.5,1271.7 1314.3,1275.1 C1310.0,1278.5 1305.1,1282.3 1301.5,1286.6 C1297.9,1290.8 1295.1,1296.1 1292.6,1300.6 C1290.0,1305.1 1288.5,1309.8 1286.2,1313.4 C1283.9,1317.0 1281.6,1320.4 1278.6,1322.3 C1275.6,1324.2 1271.8,1325.0 1268.4,1324.8 C1265.0,1324.6 1262.0,1322.9 1258.2,1321 C1254.4,1319.1 1250.1,1316.8 1245.4,1313.4 C1240.7,1310.0 1235.2,1305.1 1230.1,1300.6 C1225.0,1296.1 1219.9,1290.6 1214.8,1286.6 C1209.7,1282.6 1204.0,1279.8 1199.5,1276.4 C1195.0,1273.0 1190.8,1270.2 1188,1266.2 C1185.2,1262.2 1183.8,1257.0 1182.9,1252.1 C1182.1,1247.2 1182.3,1242.3 1182.9,1236.8 C1183.5,1231.3 1185.0,1225.4 1186.7,1219 C1188.4,1212.6 1190.8,1205.4 1193.1,1198.6 C1195.4,1191.8 1198.0,1184.4 1200.8,1178.2 C1203.6,1172.0 1206.5,1166.9 1209.7,1161.6 C1212.9,1156.3 1216.3,1151.2 1219.9,1146.3 C1223.5,1141.4 1227.6,1136.9 1231.4,1132.2 C1235.2,1127.5 1239.3,1122.5 1242.9,1118.2 C1246.5,1114.0 1249.9,1109.4 1253.1,1106.7 C1256.3,1104.0 1259.0,1103.0 1262,1102.1 C1265.0,1101.2 1267.7,1100.8 1270.9,1101.1Z" fill="#C4D004" stroke="#111" stroke-width="1.9"/>
<path d="M1270.9,1109.3 C1273.9,1109.7 1277.9,1110.4 1281.1,1112.3 C1284.3,1114.2 1286.9,1117.5 1290.1,1120.8 C1293.3,1124.1 1296.7,1128.4 1300.3,1132.2 C1303.9,1136.0 1307.7,1140.7 1311.7,1143.7 C1315.7,1146.7 1319.8,1148.8 1324.5,1150.1 C1329.2,1151.4 1334.7,1151.2 1339.8,1151.4 C1344.9,1151.6 1350.8,1150.8 1355.1,1151.4 C1359.3,1152.0 1361.9,1153.3 1365.3,1155.2 C1368.7,1157.1 1372.1,1159.5 1375.5,1162.9 C1378.9,1166.3 1382.5,1171.6 1385.7,1175.6 C1388.9,1179.6 1392.7,1183.3 1394.6,1187.1 C1396.5,1190.9 1397.1,1194.6 1397.2,1198.6 C1397.3,1202.6 1396.0,1206.8 1395.4,1211.3 C1394.8,1215.8 1394.6,1221.2 1393.4,1225.4 C1392.2,1229.7 1390.8,1233.3 1388.3,1236.8 C1385.8,1240.3 1381.9,1243.5 1378.1,1246.5 C1374.3,1249.5 1370.0,1252.4 1365.3,1254.7 C1360.6,1257.0 1354.7,1259.0 1350,1260.3 C1345.3,1261.6 1341.5,1261.6 1337.2,1262.3 C1333.0,1263.0 1328.8,1262.7 1324.5,1264.4 C1320.2,1266.1 1315.5,1269.5 1311.7,1272.6 C1307.9,1275.7 1304.9,1279.2 1301.5,1282.8 C1298.1,1286.4 1294.5,1290.4 1291.3,1294.2 C1288.1,1298.0 1285.4,1302.8 1282.4,1305.7 C1279.4,1308.6 1276.5,1310.5 1273.5,1311.6 C1270.5,1312.7 1267.9,1312.6 1264.5,1312.1 C1261.1,1311.5 1257.1,1310.2 1253.1,1308.3 C1249.1,1306.4 1245.0,1303.8 1240.3,1300.6 C1235.6,1297.4 1230.1,1292.7 1225,1289.1 C1219.9,1285.5 1214.4,1282.1 1209.7,1278.9 C1205.0,1275.7 1200.3,1273.2 1196.9,1270 C1193.5,1266.8 1190.9,1263.6 1189.3,1259.8 C1187.7,1256.0 1187.2,1251.7 1187.2,1247 C1187.2,1242.3 1188.1,1237.2 1189.3,1231.7 C1190.5,1226.2 1192.3,1220.3 1194.4,1213.9 C1196.5,1207.5 1199.2,1200.3 1202,1193.5 C1204.8,1186.7 1207.8,1179.5 1211,1173.1 C1214.2,1166.7 1217.6,1160.7 1221.2,1155.2 C1224.8,1149.7 1228.9,1145.0 1232.7,1139.9 C1236.5,1134.8 1240.5,1128.8 1244.1,1124.6 C1247.7,1120.3 1251.1,1116.8 1254.3,1114.4 C1257.5,1112.0 1260.5,1110.9 1263.3,1110.1 C1266.1,1109.2 1267.9,1108.9 1270.9,1109.3Z" fill="#FDC436" stroke="#111" stroke-width="1.9"/>
<path d="M1270.9,1116.9 C1273.7,1117.3 1276.8,1118.1 1279.8,1120 C1282.8,1121.9 1285.6,1125.1 1288.8,1128.4 C1292.0,1131.7 1295.4,1136.1 1299,1139.9 C1302.6,1143.7 1306.5,1148.4 1310.5,1151.4 C1314.5,1154.4 1318.5,1156.5 1323.2,1157.8 C1327.9,1159.1 1333.4,1158.6 1338.5,1159 C1343.6,1159.4 1349.3,1159.3 1353.8,1160.3 C1358.3,1161.3 1361.9,1162.8 1365.3,1164.9 C1368.7,1167.0 1371.7,1170.0 1374.2,1173.1 C1376.8,1176.2 1379.1,1179.9 1380.6,1183.3 C1382.1,1186.7 1383.0,1189.2 1383.2,1193.5 C1383.4,1197.8 1382.1,1203.7 1381.9,1208.8 C1381.7,1213.9 1382.5,1219.4 1381.9,1224.1 C1381.3,1228.8 1380.2,1233.2 1378.1,1236.8 C1376.0,1240.4 1372.5,1243.1 1369.1,1245.8 C1365.7,1248.5 1361.7,1250.8 1357.7,1252.7 C1353.7,1254.6 1349.2,1256.1 1344.9,1257.2 C1340.6,1258.3 1335.9,1258.7 1332.1,1259.3 C1328.3,1259.9 1325.7,1259.1 1321.9,1261.1 C1318.1,1263.1 1313.0,1267.9 1309.2,1271.3 C1305.4,1274.7 1302.4,1278.1 1299,1281.5 C1295.6,1284.9 1292.0,1288.7 1288.8,1291.7 C1285.6,1294.7 1282.8,1297.3 1279.8,1299.3 C1276.8,1301.3 1273.9,1302.8 1270.9,1303.7 C1267.9,1304.6 1265.2,1304.7 1262,1304.4 C1258.8,1304.1 1255.6,1303.6 1251.8,1301.9 C1248.0,1300.2 1243.7,1297.2 1239,1294.2 C1234.3,1291.2 1228.8,1287.4 1223.7,1284 C1218.6,1280.6 1212.7,1276.8 1208.4,1273.8 C1204.2,1270.8 1200.9,1269.2 1198.2,1266.2 C1195.5,1263.2 1193.5,1259.8 1192.3,1256 C1191.1,1252.2 1190.9,1248.1 1191.3,1243.2 C1191.7,1238.3 1192.8,1232.5 1194.4,1226.6 C1196.0,1220.6 1198.2,1214.3 1200.8,1207.5 C1203.3,1200.7 1206.5,1192.8 1209.7,1185.8 C1212.9,1178.8 1216.3,1171.6 1219.9,1165.4 C1223.5,1159.2 1227.6,1154.1 1231.4,1148.8 C1235.2,1143.5 1239.3,1138.0 1242.9,1133.5 C1246.5,1129.0 1249.7,1124.6 1253.1,1122 C1256.5,1119.4 1260.3,1118.5 1263.3,1117.7 C1266.3,1116.9 1268.2,1116.5 1270.9,1116.9Z" fill="#F5E521" stroke="#111" stroke-width="1.9"/>
<g stroke="#DB2A1C" stroke-width="3.8" fill="none">
<path d="M1140.2,912.1 V1426.3"/><path d="M1379.3,912.1 V1426.3"/>
<path d="M1028.5,1116.3 H1610.3"/><path d="M1028.5,1328.7 H1610.3"/>
</g>
<rect x="1020.5" y="904.1" width="597.8" height="530.1999999999999" fill="none" stroke="#000" stroke-width="4.4"/>
<g stroke="#000" stroke-width="4">
<path d="M1140.1,1434.3 v-6"/><path d="M1140.1,904.1 v6"/>
<path d="M1259.6,1434.3 v-6"/><path d="M1259.6,904.1 v6"/>
<path d="M1379.2,1434.3 v-6"/><path d="M1379.2,904.1 v6"/>
<path d="M1498.7,1434.3 v-6"/><path d="M1498.7,904.1 v6"/>
<path d="M1020.5,1010.1 h6"/><path d="M1618.3,1010.1 h-6"/>
<path d="M1020.5,1116.2 h6"/><path d="M1618.3,1116.2 h-6"/>
<path d="M1020.5,1222.2 h6"/><path d="M1618.3,1222.2 h-6"/>
<path d="M1020.5,1328.3 h6"/><path d="M1618.3,1328.3 h-6"/>
</g>
<text x="1018.7" y="1473.7" font-size="28.5" text-anchor="middle">-10</text>
<text x="1138.26" y="1473.7" font-size="28.5" text-anchor="middle">-5</text>
<text x="1259.62" y="1473.7" font-size="28.5" text-anchor="middle">0</text>
<text x="1379.18" y="1473.7" font-size="28.5" text-anchor="middle">5</text>
<text x="1498.74" y="1473.7" font-size="28.5" text-anchor="middle">10</text>
<text x="1618.3" y="1473.7" font-size="28.5" text-anchor="middle">15</text>
<text x="1006.3" y="914.9" font-size="28.5" text-anchor="end">15</text>
<text x="1006.3" y="1020.94" font-size="28.5" text-anchor="end">10</text>
<text x="1006.3" y="1126.98" font-size="28.5" text-anchor="end">5</text>
<text x="1006.3" y="1233.02" font-size="28.5" text-anchor="end">0</text>
<text x="1006.3" y="1339.06" font-size="28.5" text-anchor="end">-5</text>
<text x="1006.3" y="1445.1" font-size="28.5" text-anchor="end">-10</text>
<text x="1318" y="1512.7" font-size="30" text-anchor="middle">N1</text>
<text transform="translate(947.5 1169) rotate(-90)" font-size="30.5" text-anchor="middle">N4</text>
<text x="1317.5" y="891.3" font-size="32" text-anchor="middle" font-weight="bold">gender-ext</text>
<text transform="translate(947.12 855.45) scale(0.856 1.024)" font-size="44" fill="#000">C</text>
<text transform="translate(1255 1000.3) scale(0.89 1)" font-size="71" fill="#DB2A1C">A</text>
<text transform="translate(1464.5 1021.8) scale(1.05 1)" font-size="71" fill="#DB2A1C">M</text>
<text transform="translate(1510.5 1226.3) scale(0.95 1)" font-size="71" fill="#DB2A1C">D</text>
<text transform="translate(1320.5 1401.8) scale(0.94 1)" font-size="71" fill="#DB2A1C">N</text>
<defs><linearGradient id="parula" x1="0" y1="1" x2="0" y2="0"><stop offset="0" stop-color="#4F2F9B"/><stop offset="0.085" stop-color="#5D4FAD"/><stop offset="0.167" stop-color="#5C5CB6"/><stop offset="0.215" stop-color="#5A66BC"/><stop offset="0.265" stop-color="#5877C2"/><stop offset="0.333" stop-color="#5F96D0"/><stop offset="0.39" stop-color="#55A8DA"/><stop offset="0.44" stop-color="#4CB4D8"/><stop offset="0.5" stop-color="#58CEC8"/><stop offset="0.555" stop-color="#6CD8B4"/><stop offset="0.605" stop-color="#79D88A"/><stop offset="0.667" stop-color="#98D74C"/><stop offset="0.73" stop-color="#BCCF06"/><stop offset="0.772" stop-color="#D9B60A"/><stop offset="0.833" stop-color="#FDB840"/><stop offset="0.895" stop-color="#FACB30"/><stop offset="0.95" stop-color="#F4E21C"/><stop offset="1" stop-color="#F5E73A"/></linearGradient></defs>
<rect x="1652.0" y="904.1" width="34.0" height="530.1999999999999" fill="url(#parula)" stroke="#000" stroke-width="1.8"/>
<text x="1695.2" y="1443.2" font-size="24.7">0</text>
<path d="M1686.0,1345.9 h-6" stroke="#000" stroke-width="1.6"/>
<text x="1695.2" y="1354.83" font-size="24.7">1</text>
<path d="M1686.0,1257.6 h-6" stroke="#000" stroke-width="1.6"/>
<text x="1695.2" y="1266.47" font-size="24.7">2</text>
<path d="M1686.0,1169.2 h-6" stroke="#000" stroke-width="1.6"/>
<text x="1695.2" y="1178.1" font-size="24.7">3</text>
<path d="M1686.0,1080.8 h-6" stroke="#000" stroke-width="1.6"/>
<text x="1695.2" y="1089.73" font-size="24.7">4</text>
<path d="M1686.0,992.5 h-6" stroke="#000" stroke-width="1.6"/>
<text x="1695.2" y="1001.37" font-size="24.7">5</text>
<text x="1695.2" y="913" font-size="24.7">6</text>
<text x="1687.6" y="894.6" font-size="29" fill="#333">×</text>
<text x="1707.2" y="891.6" font-size="24.7" fill="#111">10</text>
<text x="1739" y="878.8" font-size="20" fill="#111">-3</text>
</g>
<g id="panelD">
<path d="M1843.1,446.3 L2136.7,348.1" stroke="#E4E4E4" stroke-width="3.7" fill="none"/>
<path d="M2136.7,348.1 L2360.7,426.8" stroke="#E4E4E4" stroke-width="3.7" fill="none"/>
<path d="M1843.1,325.7 L2136.7,227.5" stroke="#E4E4E4" stroke-width="3.7" fill="none"/>
<path d="M2136.7,227.5 L2360.7,306.2" stroke="#E4E4E4" stroke-width="3.7" fill="none"/>
<path d="M1843.1,205.1 L2136.7,106.9" stroke="#E4E4E4" stroke-width="3.7" fill="none"/>
<path d="M2136.7,106.9 L2360.7,185.6" stroke="#E4E4E4" stroke-width="3.7" fill="none"/>
<path d="M1869.8,437.4 L1869.8,196.1" stroke="#E4E4E4" stroke-width="3.7" fill="none"/>
<path d="M1869.8,437.4 L2093.8,516.1" stroke="#E4E4E4" stroke-width="3.7" fill="none"/>
<path d="M1936.5,415.1 L1936.5,173.8" stroke="#E4E4E4" stroke-width="3.7" fill="none"/>
<path d="M1936.5,415.1 L2160.5,493.8" stroke="#E4E4E4" stroke-width="3.7" fill="none"/>
<path d="M2003.3,392.8 L2003.3,151.5" stroke="#E4E4E4" stroke-width="3.7" fill="none"/>
<path d="M2003.3,392.8 L2227.2,471.5" stroke="#E4E4E4" stroke-width="3.7" fill="none"/>
<path d="M2070.0,370.4 L2070.0,129.2" stroke="#E4E4E4" stroke-width="3.7" fill="none"/>
<path d="M2070.0,370.4 L2294.0,449.1" stroke="#E4E4E4" stroke-width="3.7" fill="none"/>
<path d="M2160.3,356.4 L2160.3,115.2" stroke="#E4E4E4" stroke-width="3.7" fill="none"/>
<path d="M1866.7,454.6 L2160.3,356.4" stroke="#E4E4E4" stroke-width="3.7" fill="none"/>
<path d="M2219.2,377.1 L2219.2,135.9" stroke="#E4E4E4" stroke-width="3.7" fill="none"/>
<path d="M1925.6,475.3 L2219.2,377.1" stroke="#E4E4E4" stroke-width="3.7" fill="none"/>
<path d="M2278.2,397.8 L2278.2,156.6" stroke="#E4E4E4" stroke-width="3.7" fill="none"/>
<path d="M1984.6,496.0 L2278.2,397.8" stroke="#E4E4E4" stroke-width="3.7" fill="none"/>
<path d="M2337.1,418.6 L2337.1,177.3" stroke="#E4E4E4" stroke-width="3.7" fill="none"/>
<path d="M2043.5,516.7 L2337.1,418.6" stroke="#E4E4E4" stroke-width="3.7" fill="none"/>
<polygon points="2043.3,379.4 2090.4,395.9 2090.4,260.8 2043.3,244.3" fill="#4F309C" stroke="#000" stroke-width="1.6" stroke-linejoin="round"/>
<polygon points="2090.4,395.9 2143.8,378.1 2143.8,243 2090.4,260.8" fill="#4F309C" stroke="#000" stroke-width="1.6" stroke-linejoin="round"/>
<polygon points="2043.3,244.3 2090.4,260.8 2143.8,243 2096.7,226.4" fill="#4F309C" stroke="#000" stroke-width="1.6" stroke-linejoin="round"/>
<polygon points="1976.6,401.7 2023.7,418.2 2023.7,313.8 1976.6,297.2" fill="#4F309C" stroke="#000" stroke-width="1.6" stroke-linejoin="round"/>
<polygon points="2023.7,418.2 2077.1,400.4 2077.1,295.9 2023.7,313.8" fill="#4F309C" stroke="#000" stroke-width="1.6" stroke-linejoin="round"/>
<polygon points="1976.6,297.2 2023.7,313.8 2077.1,295.9 2029.9,279.4" fill="#4F309C" stroke="#000" stroke-width="1.6" stroke-linejoin="round"/>
<polygon points="2102.2,400.1 2149.4,416.6 2149.4,366 2102.2,349.4" fill="#F5E521" stroke="#000" stroke-width="1.6" stroke-linejoin="round"/>
<polygon points="2149.4,416.6 2202.8,398.8 2202.8,348.1 2149.4,366" fill="#F5E521" stroke="#000" stroke-width="1.6" stroke-linejoin="round"/>
<polygon points="2102.2,349.4 2149.4,366 2202.8,348.1 2155.6,331.6" fill="#F5E521" stroke="#000" stroke-width="1.6" stroke-linejoin="round"/>
<polygon points="1909.8,424 1957,440.6 1957,223.4 1909.8,206.9" fill="#4F309C" stroke="#000" stroke-width="1.6" stroke-linejoin="round"/>
<polygon points="1957,440.6 2010.4,422.7 2010.4,205.6 1957,223.4" fill="#4F309C" stroke="#000" stroke-width="1.6" stroke-linejoin="round"/>
<polygon points="1909.8,206.9 1957,223.4 2010.4,205.6 1963.2,189" fill="#4F309C" stroke="#000" stroke-width="1.6" stroke-linejoin="round"/>
<polygon points="2035.5,422.4 2082.7,439 2082.7,360.6 2035.5,344" fill="#F5E521" stroke="#000" stroke-width="1.6" stroke-linejoin="round"/>
<polygon points="2082.7,439 2136,421.1 2136,342.7 2082.7,360.6" fill="#F5E521" stroke="#000" stroke-width="1.6" stroke-linejoin="round"/>
<polygon points="2035.5,344 2082.7,360.6 2136,342.7 2088.9,326.1" fill="#F5E521" stroke="#000" stroke-width="1.6" stroke-linejoin="round"/>
<polygon points="2161.2,420.8 2208.3,437.4 2208.3,387.2 2161.2,370.6" fill="#9FD843" stroke="#000" stroke-width="1.6" stroke-linejoin="round"/>
<polygon points="2208.3,437.4 2261.7,419.5 2261.7,369.3 2208.3,387.2" fill="#9FD843" stroke="#000" stroke-width="1.6" stroke-linejoin="round"/>
<polygon points="2161.2,370.6 2208.3,387.2 2261.7,369.3 2214.6,352.8" fill="#9FD843" stroke="#000" stroke-width="1.6" stroke-linejoin="round"/>
<polygon points="1843.1,446.3 1890.3,462.9 1890.3,267.5 1843.1,250.9" fill="#4F309C" stroke="#000" stroke-width="1.6" stroke-linejoin="round"/>
<polygon points="1890.3,462.9 1943.6,445 1943.6,249.6 1890.3,267.5" fill="#4F309C" stroke="#000" stroke-width="1.6" stroke-linejoin="round"/>
<polygon points="1843.1,250.9 1890.3,267.5 1943.6,249.6 1896.5,233" fill="#4F309C" stroke="#000" stroke-width="1.6" stroke-linejoin="round"/>
<polygon points="1968.8,444.7 2015.9,461.3 2015.9,395.7 1968.8,379.1" fill="#F5E521" stroke="#000" stroke-width="1.6" stroke-linejoin="round"/>
<polygon points="2015.9,461.3 2069.3,443.4 2069.3,377.8 2015.9,395.7" fill="#F5E521" stroke="#000" stroke-width="1.6" stroke-linejoin="round"/>
<polygon points="1968.8,379.1 2015.9,395.7 2069.3,377.8 2022.2,361.2" fill="#F5E521" stroke="#000" stroke-width="1.6" stroke-linejoin="round"/>
<polygon points="2094.4,443.1 2141.6,459.7 2141.6,421.1 2094.4,404.5" fill="#9FD843" stroke="#000" stroke-width="1.6" stroke-linejoin="round"/>
<polygon points="2141.6,459.7 2195,441.8 2195,403.2 2141.6,421.1" fill="#9FD843" stroke="#000" stroke-width="1.6" stroke-linejoin="round"/>
<polygon points="2094.4,404.5 2141.6,421.1 2195,403.2 2147.8,386.7" fill="#9FD843" stroke="#000" stroke-width="1.6" stroke-linejoin="round"/>
<polygon points="2220.1,441.5 2267.3,458.1 2267.3,434.4 2220.1,417.9" fill="#5D9BD3" stroke="#000" stroke-width="1.6" stroke-linejoin="round"/>
<polygon points="2267.3,458.1 2320.6,440.2 2320.6,416.6 2267.3,434.4" fill="#5D9BD3" stroke="#000" stroke-width="1.6" stroke-linejoin="round"/>
<polygon points="2220.1,417.9 2267.3,434.4 2320.6,416.6 2273.5,400" fill="#5D9BD3" stroke="#000" stroke-width="1.6" stroke-linejoin="round"/>
<polygon points="1902,467 1949.2,483.6 1949.2,376.5 1902,359.9" fill="#F5E521" stroke="#000" stroke-width="1.6" stroke-linejoin="round"/>
<polygon points="1949.2,483.6 2002.6,465.7 2002.6,358.6 1949.2,376.5" fill="#F5E521" stroke="#000" stroke-width="1.6" stroke-linejoin="round"/>
<polygon points="1902,359.9 1949.2,376.5 2002.6,358.6 1955.4,342.1" fill="#F5E521" stroke="#000" stroke-width="1.6" stroke-linejoin="round"/>
<polygon points="2027.7,465.4 2074.9,482 2074.9,431.3 2027.7,414.7" fill="#9FD843" stroke="#000" stroke-width="1.6" stroke-linejoin="round"/>
<polygon points="2074.9,482 2128.2,464.1 2128.2,413.5 2074.9,431.3" fill="#9FD843" stroke="#000" stroke-width="1.6" stroke-linejoin="round"/>
<polygon points="2027.7,414.7 2074.9,431.3 2128.2,413.5 2081.1,396.9" fill="#9FD843" stroke="#000" stroke-width="1.6" stroke-linejoin="round"/>
<polygon points="2153.4,463.8 2200.5,480.4 2200.5,459.9 2153.4,443.3" fill="#5D9BD3" stroke="#000" stroke-width="1.6" stroke-linejoin="round"/>
<polygon points="2200.5,480.4 2253.9,462.5 2253.9,442 2200.5,459.9" fill="#5D9BD3" stroke="#000" stroke-width="1.6" stroke-linejoin="round"/>
<polygon points="2153.4,443.3 2200.5,459.9 2253.9,442 2206.8,425.5" fill="#5D9BD3" stroke="#000" stroke-width="1.6" stroke-linejoin="round"/>
<polygon points="1961,487.7 2008.1,504.3 2008.1,486.9 1961,470.4" fill="#9FD843" stroke="#000" stroke-width="1.6" stroke-linejoin="round"/>
<polygon points="2008.1,504.3 2061.5,486.4 2061.5,469.1 2008.1,486.9" fill="#9FD843" stroke="#000" stroke-width="1.6" stroke-linejoin="round"/>
<polygon points="1961,470.4 2008.1,486.9 2061.5,469.1 2014.4,452.5" fill="#9FD843" stroke="#000" stroke-width="1.6" stroke-linejoin="round"/>
<polygon points="2086.6,486.1 2133.8,502.7 2133.8,482.2 2086.6,465.6" fill="#5D9BD3" stroke="#000" stroke-width="1.6" stroke-linejoin="round"/>
<polygon points="2133.8,502.7 2187.2,484.8 2187.2,464.3 2133.8,482.2" fill="#5D9BD3" stroke="#000" stroke-width="1.6" stroke-linejoin="round"/>
<polygon points="2086.6,465.6 2133.8,482.2 2187.2,464.3 2140,447.8" fill="#5D9BD3" stroke="#000" stroke-width="1.6" stroke-linejoin="round"/>
<polygon points="2019.9,508.4 2067.1,525 2067.1,444.4 2019.9,427.9" fill="#5D9BD3" stroke="#000" stroke-width="1.6" stroke-linejoin="round"/>
<polygon points="2067.1,525 2120.5,507.2 2120.5,426.6 2067.1,444.4" fill="#5D9BD3" stroke="#000" stroke-width="1.6" stroke-linejoin="round"/>
<polygon points="2019.9,427.9 2067.1,444.4 2120.5,426.6 2073.3,410" fill="#5D9BD3" stroke="#000" stroke-width="1.6" stroke-linejoin="round"/>
<g stroke="#000" stroke-width="3.4" fill="none" stroke-linecap="butt">
<path d="M1843.1,203.6 L1843.1,446.3 L2067.1,525.0 L2365.7,424.6" stroke-linejoin="miter"/>
<path d="M1843.1,446.3 l-7.2,-2.5"/>
<path d="M1843.1,325.7 l-7.2,-2.5"/>
<path d="M1843.1,205.1 l-7.2,-2.5"/>
<path d="M1866.7,454.6 l-6.6,2.2"/>
<path d="M1925.6,475.3 l-6.6,2.2"/>
<path d="M1984.6,496.0 l-6.6,2.2"/>
<path d="M2043.5,516.7 l-6.6,2.2"/>
<path d="M2093.8,516.1 l6,2.1"/>
<path d="M2160.5,493.8 l6,2.1"/>
<path d="M2227.2,471.5 l6,2.1"/>
<path d="M2294.0,449.1 l6,2.1"/>
</g>
<text x="1827.8" y="451.1" font-size="24" text-anchor="end">0</text>
<text x="1827.8" y="330.5" font-size="24" text-anchor="end">50</text>
<text x="1827.8" y="209.9" font-size="24" text-anchor="end">100</text>
<text transform="translate(1775 327.6) rotate(-90)" font-size="27" text-anchor="middle">Channel Count</text>
<text x="2102.1" y="96" font-size="26.7" text-anchor="middle" font-weight="bold">External</text>
<text transform="translate(1734.4 52.8) scale(0.966 1.051)" font-size="44" fill="#000">D</text>
<text x="2108.3" y="543.7" font-size="25">Tipout</text>
<text x="2174.8" y="521.15" font-size="25">Tipin</text>
<text x="2241.3" y="498.6" font-size="25">Latout</text>
<text x="2307.8" y="476.05" font-size="25">Latin</text>
<text transform="translate(1860.2 466.3) rotate(-71)" font-size="24" text-anchor="end">Disappear</text>
<text transform="translate(1919.14 487.01) rotate(-71)" font-size="24" text-anchor="end">Appear</text>
<text transform="translate(1978.08 507.72) rotate(-71)" font-size="24" text-anchor="end">Negative</text>
<text transform="translate(2037.02 528.43) rotate(-71)" font-size="24" text-anchor="end">Maintain</text>
</g>
<g id="panelE">
<rect x="1916.3" y="732.9" width="416.20000000000005" height="311.6" fill="none" stroke="#000" stroke-width="4.6"/>
<g stroke="#000" stroke-width="4">
<path d="M1999.5,1044.5 v-6.5"/><path d="M1999.5,732.9 v6.5"/>
<path d="M2082.8,1044.5 v-6.5"/><path d="M2082.8,732.9 v6.5"/>
<path d="M2166.0,1044.5 v-6.5"/><path d="M2166.0,732.9 v6.5"/>
<path d="M2249.3,1044.5 v-6.5"/><path d="M2249.3,732.9 v6.5"/>
<path d="M1916.3,784.8 h6.8"/><path d="M2332.5,784.8 h-6.8"/>
<path d="M1916.3,836.8 h6.8"/><path d="M2332.5,836.8 h-6.8"/>
<path d="M1916.3,888.7 h6.8"/><path d="M2332.5,888.7 h-6.8"/>
<path d="M1916.3,940.6 h6.8"/><path d="M2332.5,940.6 h-6.8"/>
<path d="M1916.3,992.6 h6.8"/><path d="M2332.5,992.6 h-6.8"/>
</g>
<polyline points="1916.3,987.8 1924.3,996.5 1932.8,999.9 1941.5,992.6 1949.6,990.8 1958.3,985 1966.8,982 1974.8,981.1 1983.3,983.9 1991.6,982 2000.1,986.2 2008.1,988.5 2016.6,999.9 2024.9,985 2033.4,958.6 2041.4,917.3 2049.9,894.3 2058.2,855.3 2066.7,814 2074.7,781.8 2083.4,758.9 2091.5,748.5 2100,778.4 2108,818.6 2116.5,871.4 2124.8,901.2 2133.2,936.8 2141.3,958.6 2149.8,974.7 2158,978.1 2166.5,983.9 2174.6,976.5 2183.3,985.7 2191.3,981.1 2199.8,972.4 2207.9,969 2216.4,959.1 2224.6,959.8 2233.1,967.8 2241.2,970.1 2249.9,956.8 2257.9,953.6 2266.4,939.1 2274.4,946.5 2282.9,950.1 2291.2,967.1 2299.7,978.1 2307.7,978.1 2316.2,975.8 2324.5,969 2332.5,977" fill="none" stroke="#2F78BD" stroke-width="4.0" stroke-linejoin="round" stroke-linecap="butt" />
<polyline points="1916.3,1002.2 1924.3,1001.1 1932.8,993.5 1941.5,975.8 1949.6,967.8 1958.3,960.9 1966.8,968.3 1974.8,953.3 1983.3,963.7 1991.6,943.7 2000.1,924.2 2008.1,917.3 2016.6,912.7 2024.9,942.1 2033.4,944.8 2041.4,945.3 2049.9,928.8 2058.2,917.3 2066.7,934.5 2074.7,918.4 2083.4,909.9 2091.5,905.1 2100,916.1 2108,936.8 2116.5,955.6 2124.8,954.5 2133.2,972.4 2141.3,988 2149.8,966.7 2158,958.2 2166.5,952.4 2174.6,968.5 2183.3,929.9 2191.3,907 2199.8,885.6 2207.9,881 2216.4,870.9 2224.6,881.7 2233.1,877.1 2241.2,900.8 2249.9,881.7 2257.9,896.6 2266.4,884 2274.4,889.1 2282.9,881.7 2291.2,892 2299.7,909.9 2307.7,889.3 2316.2,893.9 2324.5,881.7 2332.5,880.1" fill="none" stroke="#DC5012" stroke-width="4.0" stroke-linejoin="round" stroke-linecap="butt" />
<polyline points="1916.3,978.8 1924.3,985 1932.8,979.7 1941.5,974 1949.6,983.2 1958.3,967.8 1966.8,974.7 1974.8,976.5 1983.3,996.5 1991.6,989.6 2000.1,991.2 2008.1,1002.2 2016.6,1012.1 2024.9,1010.3 2033.4,986.2 2041.4,949.4 2049.9,919.6 2058.2,878.3 2066.7,836.9 2074.7,783 2083.4,774.9 2091.5,761.9 2100,779.5 2108,816.3 2116.5,871.4 2124.8,916.1 2133.2,944.8 2141.3,965.5 2149.8,994.2 2158,1006.8 2166.5,1008.7 2174.6,1014.9 2183.3,1026.4 2191.3,1024.5 2199.8,1013.3 2207.9,1017.2 2216.4,1012.6 2224.6,1020.6 2233.1,1025.2 2241.2,1027 2249.9,1037.8 2257.9,1034.4 2266.4,1020.6 2274.4,1016.5 2282.9,1020.6 2291.2,1027 2299.7,1027.5 2307.7,1009.8 2316.2,1006.4 2324.5,1005.2 2332.5,1019.5" fill="none" stroke="#F0B310" stroke-width="4.0" stroke-linejoin="round" stroke-linecap="butt" />
<polyline points="1916.3,1003.4 1924.3,1006.4 1932.8,1012.1 1941.5,994.2 1949.6,983.9 1958.3,975.8 1966.8,993.1 1974.8,990.8 1983.3,1014.9 1991.6,996.5 2000.1,987.8 2008.1,1001.1 2016.6,1008.7 2024.9,1012.6 2033.4,996.5 2041.4,971.2 2049.9,940.3 2058.2,913.9 2066.7,882.9 2074.7,871.4 2083.4,876.4 2091.5,884 2100,887.4 2108,936.8 2116.5,973.5 2124.8,989.6 2133.2,1002.2 2141.3,1014.2 2149.8,1010.3 2158,1006.4 2166.5,1001.8 2174.6,998.3 2183.3,993.1 2191.3,983.9 2199.8,975.8 2207.9,985.7 2216.4,987.8 2224.6,993.1 2233.1,997.7 2241.2,998.8 2249.9,999.3 2257.9,1001.1 2266.4,988.5 2274.4,974.7 2282.9,982.7 2291.2,985 2299.7,981.1 2307.7,984.6 2316.2,979.3 2324.5,975.4 2332.5,977.7" fill="none" stroke="#8A1FB0" stroke-width="4.0" stroke-linejoin="round" stroke-linecap="butt" />
<text x="1909.5" y="740.5" font-size="20" text-anchor="end">5</text>
<text x="1909.5" y="792.433" font-size="20" text-anchor="end">4</text>
<text x="1909.5" y="844.367" font-size="20" text-anchor="end">3</text>
<text x="1909.5" y="896.3" font-size="20" text-anchor="end">2</text>
<text x="1909.5" y="948.233" font-size="20" text-anchor="end">1</text>
<text x="1909.5" y="1000.17" font-size="20" text-anchor="end">0</text>
<text x="1909.5" y="1052.1" font-size="20" text-anchor="end">-1</text>
<text x="1915.8" y="1070.8" font-size="20" text-anchor="middle">0</text>
<text x="1999.04" y="1070.8" font-size="20" text-anchor="middle">0.1</text>
<text x="2082.28" y="1070.8" font-size="20" text-anchor="middle">0.2</text>
<text x="2165.52" y="1070.8" font-size="20" text-anchor="middle">0.3</text>
<text x="2248.76" y="1070.8" font-size="20" text-anchor="middle">0.4</text>
<text x="2332" y="1070.8" font-size="20" text-anchor="middle">0.5</text>
<text transform="translate(1835.38 746.9) scale(0.744 1.054)" font-size="44" fill="#000">E</text>
<text x="1935.1" y="770.8" font-size="20.5" font-weight="bold">P3</text>
<rect x="2175.7" y="742.3" width="146.9000000000001" height="93.5" fill="#fff" stroke="#000" stroke-width="4.4"/>
<path d="M2181.5,756.1 H2218.2" stroke="#2F78BD" stroke-width="4" fill="none"/>
<text x="2222.3" y="762.7" font-size="17.7">VLIn</text>
<path d="M2181.5,778.4 H2218.2" stroke="#DC5012" stroke-width="4" fill="none"/>
<text x="2222.3" y="785" font-size="17.7">Dorsal In T7</text>
<path d="M2181.5,800.7 H2218.2" stroke="#F0B310" stroke-width="4" fill="none"/>
<text x="2222.3" y="807.3" font-size="17.7">Dorsal In T8</text>
<path d="M2181.5,822.7 H2218.2" stroke="#8A1FB0" stroke-width="4" fill="none"/>
<text x="2222.3" y="829.3" font-size="17.7">Dorsal In T9</text>
</g>
<g id="panelF">
<rect x="1920.4" y="1191.0" width="416.5" height="311.79999999999995" fill="none" stroke="#000" stroke-width="4.6"/>
<g stroke="#000" stroke-width="4">
<path d="M2003.7,1502.8 v-6.5"/><path d="M2003.7,1191.0 v6.5"/>
<path d="M2087.0,1502.8 v-6.5"/><path d="M2087.0,1191.0 v6.5"/>
<path d="M2170.3,1502.8 v-6.5"/><path d="M2170.3,1191.0 v6.5"/>
<path d="M2253.6,1502.8 v-6.5"/><path d="M2253.6,1191.0 v6.5"/>
<path d="M1920.4,1253.4 h6.8"/><path d="M2336.9,1253.4 h-6.8"/>
<path d="M1920.4,1315.7 h6.8"/><path d="M2336.9,1315.7 h-6.8"/>
<path d="M1920.4,1378.1 h6.8"/><path d="M2336.9,1378.1 h-6.8"/>
<path d="M1920.4,1440.4 h6.8"/><path d="M2336.9,1440.4 h-6.8"/>
</g>
<polyline points="1920.4,1438.5 1928.7,1440.1 1937.2,1447.7 1945.4,1444.7 1953.7,1440.8 1962,1429.8 1970.5,1431 1978.7,1442.4 1987,1443.6 1995.5,1441.3 2003.8,1444.3 2012,1455.1 2020.3,1468.4 2028.8,1445.9 2037,1424.1 2045.3,1388.5 2053.6,1347.2 2062.1,1305.8 2070.3,1280.6 2078.6,1265.7 2087.1,1259.9 2095.4,1257.6 2103.6,1259.9 2111.9,1289.8 2120.4,1321.9 2128.7,1349.5 2136.9,1388.5 2145.2,1406.9 2153.7,1417.2 2161.9,1431 2170.2,1436.7 2178.7,1435.6 2187,1444.3 2195.2,1444.3 2203.7,1433.9 2212,1435.6 2220.3,1425.2 2228.5,1432.1 2237,1445.4 2245.3,1442.4 2253.6,1433.3 2261.8,1429.8 2270.3,1413.7 2278.6,1414.9 2286.8,1408 2295.3,1428.7 2303.6,1437.9 2311.9,1436.2 2320.1,1429.8 2328.6,1412.6 2336.9,1421.3" fill="none" stroke="#2F78BD" stroke-width="4.0" stroke-linejoin="round" stroke-linecap="butt" />
<polyline points="1920.4,1465.9 1928.7,1474.1 1937.2,1479.2 1945.4,1484.9 1953.7,1476.4 1962,1470.7 1970.5,1474.6 1978.7,1468.8 1987,1471.8 1995.5,1474.1 2003.8,1488.4 2012,1477.6 2020.3,1475.7 2028.8,1481.5 2037,1443.6 2045.3,1409.2 2053.6,1363.2 2062.1,1317.3 2070.3,1274.2 2078.6,1274.2 2087.1,1257.6 2095.4,1254.2 2103.6,1266.8 2111.9,1294.4 2120.4,1317.3 2128.7,1363.2 2136.9,1387.3 2145.2,1401.1 2153.7,1417.2 2161.9,1432.1 2170.2,1422.9 2178.7,1409.2 2187,1387.8 2195.2,1385.7 2203.7,1409.2 2212,1435.6 2220.3,1439.7 2228.5,1458.1 2237,1450.5 2245.3,1434.4 2253.6,1440.8 2261.8,1442.9 2270.3,1417.2 2278.6,1424.8 2286.8,1418.8 2295.3,1418.3 2303.6,1416 2311.9,1413.7 2320.1,1408.7 2328.6,1409.8 2336.9,1405.2" fill="none" stroke="#DC5012" stroke-width="4.0" stroke-linejoin="round" stroke-linecap="butt" />
<polyline points="1920.4,1437.9 1928.7,1451.6 1937.2,1445.4 1945.4,1440.8 1953.7,1436 1962,1439.7 1970.5,1421.8 1978.7,1417.2 1987,1421.8 1995.5,1415.6 2003.8,1417.9 2012,1402.3 2020.3,1409.2 2028.8,1414.9 2037,1388.5 2045.3,1362.1 2053.6,1359.8 2062.1,1339.1 2070.3,1310.4 2078.6,1280.6 2087.1,1239.3 2095.4,1233.5 2103.6,1282.9 2111.9,1321.9 2120.4,1374.7 2128.7,1391.9 2136.9,1405.7 2145.2,1410.3 2153.7,1420.6 2161.9,1423.4 2170.2,1429.4 2178.7,1422.5 2187,1433.3 2195.2,1430.5 2203.7,1423.6 2212,1413.3 2220.3,1403 2228.5,1393.1 2237,1393.1 2245.3,1397 2253.6,1377.5 2261.8,1383.9 2270.3,1366.2 2278.6,1378.2 2286.8,1395.4 2295.3,1404.6 2303.6,1426.4 2311.9,1432.1 2320.1,1432.1 2328.6,1442.4 2336.9,1443.6" fill="none" stroke="#F0B310" stroke-width="4.0" stroke-linejoin="round" stroke-linecap="butt" />
<polyline points="1920.4,1424.8 1928.7,1424.5 1937.2,1414.4 1945.4,1406.9 1953.7,1397 1962,1402.3 1970.5,1398.4 1978.7,1406.4 1987,1413.7 1995.5,1419 2003.8,1429.4 2012,1437.2 2020.3,1427.5 2028.8,1408.7 2037,1371.3 2045.3,1324.7 2053.6,1331.6 2062.1,1306.5 2070.3,1314.3 2078.6,1309.3 2087.1,1287.5 2095.4,1293.2 2103.6,1338 2111.9,1381.6 2120.4,1424.1 2128.7,1434.4 2136.9,1426.4 2145.2,1432.8 2153.7,1417.9 2161.9,1441.3 2170.2,1448.9 2178.7,1434.4 2187,1421.8 2195.2,1397 2203.7,1397.7 2212,1399.5 2220.3,1395.8 2228.5,1396.5 2237,1384.4 2245.3,1380.9 2253.6,1397.7 2261.8,1409.8 2270.3,1413.7 2278.6,1398.4 2286.8,1421.8 2295.3,1432.1 2303.6,1440.6 2311.9,1440.8 2320.1,1444.7 2328.6,1453.9 2336.9,1428.7" fill="none" stroke="#8A1FB0" stroke-width="4.0" stroke-linejoin="round" stroke-linecap="butt" />
<text x="1913.5" y="1198.6" font-size="20" text-anchor="end">4</text>
<text x="1913.5" y="1260.96" font-size="20" text-anchor="end">3</text>
<text x="1913.5" y="1323.32" font-size="20" text-anchor="end">2</text>
<text x="1913.5" y="1385.68" font-size="20" text-anchor="end">1</text>
<text x="1913.5" y="1448.04" font-size="20" text-anchor="end">0</text>
<text x="1913.5" y="1510.4" font-size="20" text-anchor="end">-1</text>
<text x="1919.9" y="1528.5" font-size="20" text-anchor="middle">0</text>
<text x="2003.2" y="1528.5" font-size="20" text-anchor="middle">0.1</text>
<text x="2086.5" y="1528.5" font-size="20" text-anchor="middle">0.2</text>
<text x="2169.8" y="1528.5" font-size="20" text-anchor="middle">0.3</text>
<text x="2253.1" y="1528.5" font-size="20" text-anchor="middle">0.4</text>
<text x="2336.4" y="1528.5" font-size="20" text-anchor="middle">0.5</text>
<text x="2128.7" y="1553.8" font-size="21.7" text-anchor="middle">t (s)</text>
<text transform="translate(1886 1347.9) rotate(-90)" font-size="21.5" text-anchor="middle">UNC-Z-GC</text>
<text transform="translate(1841.93 1180) scale(0.786 1.054)" font-size="44" fill="#000">F</text>
<rect x="2175.7" y="1200.9" width="151.5" height="93.69999999999982" fill="#fff" stroke="#000" stroke-width="4.4"/>
<path d="M2181.5,1214.2 H2218.2" stroke="#2F78BD" stroke-width="4" fill="none"/>
<text x="2222.3" y="1220.8" font-size="17.7">ShortWin VL</text>
<path d="M2181.5,1236.5 H2218.2" stroke="#DC5012" stroke-width="4" fill="none"/>
<text x="2222.3" y="1243.1" font-size="17.7">ShortWin tip</text>
<path d="M2181.5,1259 H2218.2" stroke="#F0B310" stroke-width="4" fill="none"/>
<text x="2222.3" y="1265.6" font-size="17.7">LongWin VL</text>
<path d="M2181.5,1281.2 H2218.2" stroke="#8A1FB0" stroke-width="4" fill="none"/>
<text x="2222.3" y="1287.8" font-size="17.7">LongWin tip</text>
</g>
</svg>
</body></html>
